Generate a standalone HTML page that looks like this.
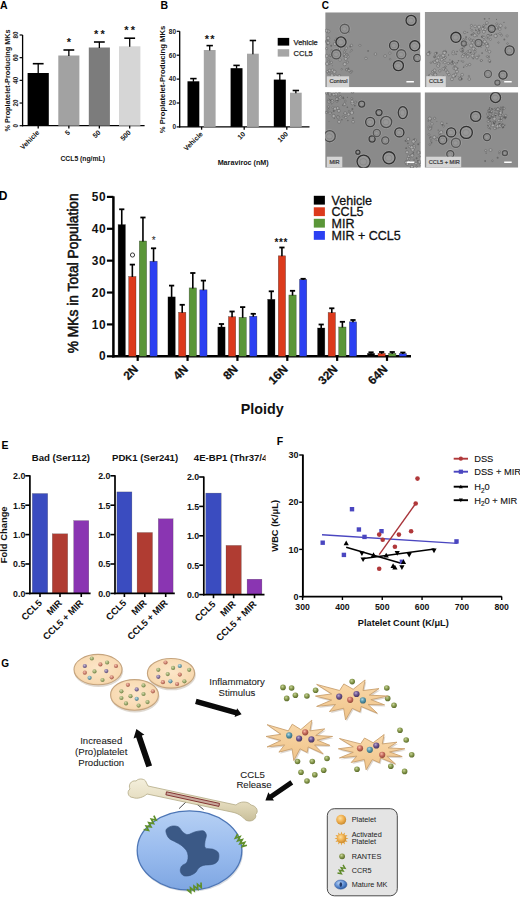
<!DOCTYPE html>
<html><head><meta charset="utf-8"><title>Figure</title>
<style>
html,body{margin:0;padding:0;background:#fff;width:520px;height:899px;overflow:hidden;}
svg{display:block;}
text{font-family:"Liberation Sans",sans-serif;}
</style></head>
<body>
<svg width="520" height="899" viewBox="0 0 520 899">
<rect width="520" height="899" fill="#fff"/>
<defs>
<radialGradient id="gPlate" cx="50%" cy="45%" r="60%"><stop offset="0" stop-color="#fce6c8"/><stop offset="0.8" stop-color="#f8dab2"/><stop offset="1" stop-color="#eec99a"/></radialGradient>
<linearGradient id="gStar" x1="0" y1="0" x2="0" y2="1"><stop offset="0" stop-color="#f9d9ab"/><stop offset="1" stop-color="#f0c48a"/></linearGradient>
<radialGradient id="gGreen" cx="40%" cy="35%" r="65%"><stop offset="0" stop-color="#c8d49a"/><stop offset="0.5" stop-color="#8a9c50"/><stop offset="1" stop-color="#5a6a2a"/></radialGradient>
<radialGradient id="gPurple" cx="40%" cy="35%" r="65%"><stop offset="0" stop-color="#b0a0d0"/><stop offset="0.5" stop-color="#6a4a8a"/><stop offset="1" stop-color="#3a2a5a"/></radialGradient>
<radialGradient id="gRed" cx="40%" cy="35%" r="65%"><stop offset="0" stop-color="#f0a090"/><stop offset="0.5" stop-color="#c05a4a"/><stop offset="1" stop-color="#8a3a2a"/></radialGradient>
<radialGradient id="gTeal" cx="40%" cy="35%" r="65%"><stop offset="0" stop-color="#a0d0e0"/><stop offset="0.5" stop-color="#4a8aa0"/><stop offset="1" stop-color="#2a5a6a"/></radialGradient>
<radialGradient id="gOrange" cx="40%" cy="35%" r="65%"><stop offset="0" stop-color="#fde0a0"/><stop offset="0.55" stop-color="#f0b050"/><stop offset="1" stop-color="#c88a30"/></radialGradient>
<radialGradient id="gBlue" cx="40%" cy="35%" r="65%"><stop offset="0" stop-color="#c0d8f8"/><stop offset="0.6" stop-color="#5a8ad0"/><stop offset="1" stop-color="#2a5aa0"/></radialGradient>
<radialGradient id="mGreen" cx="40%" cy="35%" r="65%"><stop offset="0" stop-color="#d6dcb0"/><stop offset="0.55" stop-color="#9aa86c"/><stop offset="1" stop-color="#72824a"/></radialGradient>
<radialGradient id="mPurple" cx="40%" cy="35%" r="65%"><stop offset="0" stop-color="#c8bcd8"/><stop offset="0.55" stop-color="#86759e"/><stop offset="1" stop-color="#5a4a72"/></radialGradient>
<radialGradient id="mRed" cx="40%" cy="35%" r="65%"><stop offset="0" stop-color="#f2c0b0"/><stop offset="0.55" stop-color="#cc8270"/><stop offset="1" stop-color="#a05a48"/></radialGradient>
<radialGradient id="mTeal" cx="40%" cy="35%" r="65%"><stop offset="0" stop-color="#c0dce4"/><stop offset="0.55" stop-color="#74a4b2"/><stop offset="1" stop-color="#4a7684"/></radialGradient>
<radialGradient id="sPurple" cx="40%" cy="35%" r="65%"><stop offset="0" stop-color="#b8a8d0"/><stop offset="0.5" stop-color="#6e5690"/><stop offset="1" stop-color="#44335e"/></radialGradient>
<radialGradient id="sRed" cx="40%" cy="35%" r="65%"><stop offset="0" stop-color="#f4b8a8"/><stop offset="0.5" stop-color="#c86e5e"/><stop offset="1" stop-color="#94463a"/></radialGradient>
<radialGradient id="sTeal" cx="40%" cy="35%" r="65%"><stop offset="0" stop-color="#b0dae6"/><stop offset="0.5" stop-color="#5a98ac"/><stop offset="1" stop-color="#356a7a"/></radialGradient>
<linearGradient id="gMK" x1="0" y1="0" x2="0" y2="1"><stop offset="0" stop-color="#b6d0f4"/><stop offset="0.5" stop-color="#9abcee"/><stop offset="1" stop-color="#7ea6e2"/></linearGradient>
<linearGradient id="gBone" x1="0" y1="0" x2="0" y2="1"><stop offset="0" stop-color="#f4efdc"/><stop offset="0.6" stop-color="#e2d9ba"/><stop offset="1" stop-color="#c9bf9a"/></linearGradient>
</defs><text x="0" y="8.6" font-size="10.5" font-weight="bold" text-anchor="start" fill="#000">A</text>
<line x1="22.6" y1="35" x2="22.6" y2="126.3" stroke="#000" stroke-width="1.3"/>
<line x1="22" y1="125.7" x2="144.6" y2="125.7" stroke="#000" stroke-width="1.3"/>
<line x1="19.6" y1="125.7" x2="22.6" y2="125.7" stroke="#000" stroke-width="1.2"/>
<text x="18.3" y="125.7" font-size="6.3" font-weight="bold" text-anchor="middle" fill="#222" transform="rotate(-90 18.3 125.7)">0</text>
<line x1="19.6" y1="103.03" x2="22.6" y2="103.03" stroke="#000" stroke-width="1.2"/>
<text x="18.3" y="103.03" font-size="6.3" font-weight="bold" text-anchor="middle" fill="#222" transform="rotate(-90 18.3 103.03)">20</text>
<line x1="19.6" y1="80.35" x2="22.6" y2="80.35" stroke="#000" stroke-width="1.2"/>
<text x="18.3" y="80.35" font-size="6.3" font-weight="bold" text-anchor="middle" fill="#222" transform="rotate(-90 18.3 80.35)">40</text>
<line x1="19.6" y1="57.67" x2="22.6" y2="57.67" stroke="#000" stroke-width="1.2"/>
<text x="18.3" y="57.67" font-size="6.3" font-weight="bold" text-anchor="middle" fill="#222" transform="rotate(-90 18.3 57.67)">60</text>
<line x1="19.6" y1="35" x2="22.6" y2="35" stroke="#000" stroke-width="1.2"/>
<text x="18.3" y="35" font-size="6.3" font-weight="bold" text-anchor="middle" fill="#222" transform="rotate(-90 18.3 35)">80</text>
<text x="9.8" y="80.5" font-size="7.3" font-weight="bold" text-anchor="middle" fill="#111" transform="rotate(-90 9.8 80.5)">% Proplatelet-Producing MKs</text>
<rect x="27.6" y="73" width="21.2" height="52.7" fill="#000"/>
<line x1="38.2" y1="63.7" x2="38.2" y2="73.5" stroke="#000" stroke-width="1.3"/>
<line x1="32.8" y1="63.7" x2="43.6" y2="63.7" stroke="#000" stroke-width="1.6"/>
<line x1="38.2" y1="125.7" x2="38.2" y2="128.5" stroke="#000" stroke-width="1.3"/>
<text x="39.8" y="133.1" font-size="6.9" font-weight="bold" text-anchor="end" fill="#111" transform="rotate(-45 39.8 133.1)">Vehicle</text>
<rect x="58.3" y="55.5" width="21.1" height="70.2" fill="#a2a2a2"/>
<line x1="68.85" y1="50" x2="68.85" y2="56" stroke="#000" stroke-width="1.3"/>
<line x1="63.45" y1="50" x2="74.25" y2="50" stroke="#000" stroke-width="1.6"/>
<line x1="68.85" y1="125.7" x2="68.85" y2="128.5" stroke="#000" stroke-width="1.3"/>
<text x="69.95" y="45.77" font-size="11" font-weight="bold" text-anchor="middle" fill="#111" letter-spacing="2.2">*</text>
<text x="70.45" y="133.1" font-size="6.9" font-weight="bold" text-anchor="end" fill="#111" transform="rotate(-45 70.45 133.1)">5</text>
<rect x="88.8" y="47.5" width="21.1" height="78.2" fill="#7c7c7c"/>
<line x1="99.35" y1="42" x2="99.35" y2="48" stroke="#000" stroke-width="1.3"/>
<line x1="93.95" y1="42" x2="104.75" y2="42" stroke="#000" stroke-width="1.6"/>
<line x1="99.35" y1="125.7" x2="99.35" y2="128.5" stroke="#000" stroke-width="1.3"/>
<text x="100.45" y="37.77" font-size="11" font-weight="bold" text-anchor="middle" fill="#111" letter-spacing="2.2">**</text>
<text x="100.95" y="133.1" font-size="6.9" font-weight="bold" text-anchor="end" fill="#111" transform="rotate(-45 100.95 133.1)">50</text>
<rect x="119" y="46.3" width="21.4" height="79.4" fill="#d6d6d6"/>
<line x1="129.7" y1="38.2" x2="129.7" y2="46.8" stroke="#000" stroke-width="1.3"/>
<line x1="124.3" y1="38.2" x2="135.1" y2="38.2" stroke="#000" stroke-width="1.6"/>
<line x1="129.7" y1="125.7" x2="129.7" y2="128.5" stroke="#000" stroke-width="1.3"/>
<text x="130.8" y="33.97" font-size="11" font-weight="bold" text-anchor="middle" fill="#111" letter-spacing="2.2">**</text>
<text x="131.3" y="133.1" font-size="6.9" font-weight="bold" text-anchor="end" fill="#111" transform="rotate(-45 131.3 133.1)">500</text>
<text x="82.7" y="160.8" font-size="6.8" font-weight="bold" text-anchor="middle" fill="#111">CCL5 (ng/mL)</text>
<text x="160.6" y="8.6" font-size="10.5" font-weight="bold" text-anchor="start" fill="#000">B</text>
<line x1="179.7" y1="31.3" x2="179.7" y2="127.5" stroke="#000" stroke-width="1.3"/>
<line x1="179.1" y1="126.9" x2="309.5" y2="126.9" stroke="#000" stroke-width="1.3"/>
<line x1="176.7" y1="126.9" x2="179.7" y2="126.9" stroke="#000" stroke-width="1.2"/>
<text x="176.1" y="129.2" font-size="6.5" font-weight="bold" text-anchor="end" fill="#222">0</text>
<line x1="176.7" y1="103" x2="179.7" y2="103" stroke="#000" stroke-width="1.2"/>
<text x="176.1" y="105.3" font-size="6.5" font-weight="bold" text-anchor="end" fill="#222">20</text>
<line x1="176.7" y1="79.1" x2="179.7" y2="79.1" stroke="#000" stroke-width="1.2"/>
<text x="176.1" y="81.4" font-size="6.5" font-weight="bold" text-anchor="end" fill="#222">40</text>
<line x1="176.7" y1="55.2" x2="179.7" y2="55.2" stroke="#000" stroke-width="1.2"/>
<text x="176.1" y="57.5" font-size="6.5" font-weight="bold" text-anchor="end" fill="#222">60</text>
<line x1="176.7" y1="31.3" x2="179.7" y2="31.3" stroke="#000" stroke-width="1.2"/>
<text x="176.1" y="33.6" font-size="6.5" font-weight="bold" text-anchor="end" fill="#222">80</text>
<text x="164.8" y="79.5" font-size="7.7" font-weight="bold" text-anchor="middle" fill="#111" transform="rotate(-90 164.8 79.5)">% Proplatelet-Producing MKs</text>
<rect x="187.5" y="81.3" width="11.8" height="45.6" fill="#000"/>
<line x1="193.4" y1="78.6" x2="193.4" y2="81.8" stroke="#000" stroke-width="1.3"/>
<line x1="190.2" y1="78.6" x2="196.6" y2="78.6" stroke="#000" stroke-width="1.6"/>
<rect x="203.8" y="50" width="11.8" height="76.9" fill="#a5a5a5"/>
<line x1="209.7" y1="45.6" x2="209.7" y2="50.5" stroke="#000" stroke-width="1.3"/>
<line x1="206.5" y1="45.6" x2="212.9" y2="45.6" stroke="#000" stroke-width="1.6"/>
<text x="210.3" y="43.47" font-size="11" font-weight="bold" text-anchor="middle" fill="#111" letter-spacing="1.2">**</text>
<rect x="230.6" y="68.2" width="11.9" height="58.7" fill="#000"/>
<line x1="236.55" y1="65.4" x2="236.55" y2="68.7" stroke="#000" stroke-width="1.3"/>
<line x1="233.35" y1="65.4" x2="239.75" y2="65.4" stroke="#000" stroke-width="1.6"/>
<rect x="247" y="53.7" width="11.8" height="73.2" fill="#a5a5a5"/>
<line x1="252.9" y1="40.5" x2="252.9" y2="54.2" stroke="#000" stroke-width="1.3"/>
<line x1="249.7" y1="40.5" x2="256.1" y2="40.5" stroke="#000" stroke-width="1.6"/>
<rect x="273.8" y="79.6" width="12" height="47.3" fill="#000"/>
<line x1="279.8" y1="73.5" x2="279.8" y2="80.1" stroke="#000" stroke-width="1.3"/>
<line x1="276.6" y1="73.5" x2="283" y2="73.5" stroke="#000" stroke-width="1.6"/>
<rect x="290" y="92.7" width="11.7" height="34.2" fill="#a5a5a5"/>
<line x1="295.85" y1="90.5" x2="295.85" y2="93.2" stroke="#000" stroke-width="1.3"/>
<line x1="292.65" y1="90.5" x2="299.05" y2="90.5" stroke="#000" stroke-width="1.6"/>
<line x1="201.6" y1="126.9" x2="201.6" y2="129.7" stroke="#000" stroke-width="1.3"/>
<text x="203.2" y="134.5" font-size="6.9" font-weight="bold" text-anchor="end" fill="#111" transform="rotate(-45 203.2 134.5)">Vehicle</text>
<line x1="244.2" y1="126.9" x2="244.2" y2="129.7" stroke="#000" stroke-width="1.3"/>
<text x="245.8" y="134.5" font-size="6.9" font-weight="bold" text-anchor="end" fill="#111" transform="rotate(-45 245.8 134.5)">10</text>
<line x1="286.8" y1="126.9" x2="286.8" y2="129.7" stroke="#000" stroke-width="1.3"/>
<text x="288.4" y="134.5" font-size="6.9" font-weight="bold" text-anchor="end" fill="#111" transform="rotate(-45 288.4 134.5)">100</text>
<text x="243.2" y="165.3" font-size="7.2" font-weight="bold" text-anchor="middle" fill="#111">Maraviroc (nM)</text>
<rect x="277.7" y="37.9" width="11.5" height="7.7" fill="#000"/>
<rect x="277.7" y="49.2" width="11.5" height="7.4" fill="#a5a5a5"/>
<text x="293.6" y="44.6" font-size="7.5" text-anchor="start" fill="#222" stroke="#222" stroke-width="0.25">Vehicle</text>
<text x="293.6" y="56" font-size="7.5" text-anchor="start" fill="#222" stroke="#222" stroke-width="0.25">CCL5</text>
<text x="321.8" y="9.4" font-size="10" font-weight="bold" text-anchor="start" fill="#000">C</text>
<clipPath id="cp1"><rect x="325.2" y="12.3" width="95.2" height="75"/></clipPath>
<g clip-path="url(#cp1)">
<rect x="325.2" y="12.3" width="95.2" height="75" fill="#8e8e8e"/>
<circle cx="329.49" cy="70.68" r="1.46" fill="#acacac" stroke="#4a4a4a" stroke-width="0.5" stroke-opacity="0.75"/>
<circle cx="338.88" cy="51.58" r="0.81" fill="#444" fill-opacity="0.5"/>
<circle cx="328.44" cy="31.36" r="1.54" fill="#acacac" stroke="#4a4a4a" stroke-width="0.5" stroke-opacity="0.75"/>
<circle cx="345.82" cy="30.1" r="0.69" fill="#444" fill-opacity="0.5"/>
<circle cx="331.95" cy="75.37" r="1.6" fill="#acacac" stroke="#4a4a4a" stroke-width="0.5" stroke-opacity="0.75"/>
<circle cx="326.66" cy="55.99" r="1.64" fill="#acacac" stroke="#4a4a4a" stroke-width="0.5" stroke-opacity="0.75"/>
<circle cx="331.63" cy="50.26" r="0.73" fill="#acacac" stroke="#4a4a4a" stroke-width="0.5" stroke-opacity="0.75"/>
<circle cx="337.39" cy="53.8" r="0.93" fill="#acacac" stroke="#4a4a4a" stroke-width="0.5" stroke-opacity="0.75"/>
<circle cx="331.69" cy="52.06" r="0.99" fill="#acacac" stroke="#4a4a4a" stroke-width="0.5" stroke-opacity="0.75"/>
<circle cx="347.78" cy="56.71" r="1.34" fill="#acacac" stroke="#4a4a4a" stroke-width="0.5" stroke-opacity="0.75"/>
<circle cx="351.81" cy="71.28" r="0.82" fill="#acacac" stroke="#4a4a4a" stroke-width="0.5" stroke-opacity="0.75"/>
<circle cx="344.76" cy="64.14" r="1.64" fill="#acacac" stroke="#4a4a4a" stroke-width="0.5" stroke-opacity="0.75"/>
<circle cx="347.58" cy="62.17" r="1" fill="#acacac" stroke="#4a4a4a" stroke-width="0.5" stroke-opacity="0.75"/>
<circle cx="348.94" cy="70.62" r="1.21" fill="#acacac" stroke="#4a4a4a" stroke-width="0.5" stroke-opacity="0.75"/>
<circle cx="326.9" cy="41.65" r="1.5" fill="#acacac" stroke="#4a4a4a" stroke-width="0.5" stroke-opacity="0.75"/>
<circle cx="330.5" cy="56.34" r="0.84" fill="#444" fill-opacity="0.5"/>
<circle cx="335.74" cy="51.07" r="0.73" fill="#444" fill-opacity="0.5"/>
<circle cx="339.54" cy="48.88" r="1.19" fill="#acacac" stroke="#4a4a4a" stroke-width="0.5" stroke-opacity="0.75"/>
<circle cx="327.13" cy="63.76" r="1.68" fill="#acacac" stroke="#4a4a4a" stroke-width="0.5" stroke-opacity="0.75"/>
<circle cx="336.23" cy="38.18" r="0.72" fill="#444" fill-opacity="0.5"/>
<circle cx="346.03" cy="55.9" r="1.56" fill="#acacac" stroke="#4a4a4a" stroke-width="0.5" stroke-opacity="0.75"/>
<circle cx="339.36" cy="75.72" r="1.28" fill="#acacac" stroke="#4a4a4a" stroke-width="0.5" stroke-opacity="0.75"/>
<circle cx="333" cy="56.3" r="1.66" fill="#acacac" stroke="#4a4a4a" stroke-width="0.5" stroke-opacity="0.75"/>
<circle cx="346.38" cy="69.38" r="0.95" fill="#444" fill-opacity="0.5"/>
<circle cx="347.04" cy="54.9" r="1.26" fill="#acacac" stroke="#4a4a4a" stroke-width="0.5" stroke-opacity="0.75"/>
<circle cx="327.46" cy="71.76" r="1.27" fill="#acacac" stroke="#4a4a4a" stroke-width="0.5" stroke-opacity="0.75"/>
<circle cx="339.12" cy="53.28" r="1.06" fill="#acacac" stroke="#4a4a4a" stroke-width="0.5" stroke-opacity="0.75"/>
<circle cx="340" cy="59.93" r="1.31" fill="#acacac" stroke="#4a4a4a" stroke-width="0.5" stroke-opacity="0.75"/>
<circle cx="326.73" cy="41.02" r="0.88" fill="#acacac" stroke="#4a4a4a" stroke-width="0.5" stroke-opacity="0.75"/>
<circle cx="348.39" cy="68.33" r="0.9" fill="#444" fill-opacity="0.5"/>
<circle cx="332.64" cy="70.4" r="1.37" fill="#acacac" stroke="#4a4a4a" stroke-width="0.5" stroke-opacity="0.75"/>
<circle cx="326.43" cy="30.7" r="1.46" fill="#acacac" stroke="#4a4a4a" stroke-width="0.5" stroke-opacity="0.75"/>
<circle cx="328.85" cy="59.99" r="1.04" fill="#acacac" stroke="#4a4a4a" stroke-width="0.5" stroke-opacity="0.75"/>
<circle cx="330.15" cy="55.31" r="0.87" fill="#acacac" stroke="#4a4a4a" stroke-width="0.5" stroke-opacity="0.75"/>
<circle cx="344.5" cy="51.83" r="1.02" fill="#acacac" stroke="#4a4a4a" stroke-width="0.5" stroke-opacity="0.75"/>
<circle cx="326.61" cy="48.55" r="1.12" fill="#acacac" stroke="#4a4a4a" stroke-width="0.5" stroke-opacity="0.75"/>
<circle cx="328.83" cy="73.19" r="1.21" fill="#acacac" stroke="#4a4a4a" stroke-width="0.5" stroke-opacity="0.75"/>
<circle cx="341.75" cy="69.22" r="0.72" fill="#acacac" stroke="#4a4a4a" stroke-width="0.5" stroke-opacity="0.75"/>
<circle cx="329.81" cy="64.5" r="0.52" fill="#444" fill-opacity="0.5"/>
<circle cx="343.63" cy="56.15" r="0.55" fill="#444" fill-opacity="0.5"/>
<circle cx="346.74" cy="54.8" r="0.92" fill="#acacac" stroke="#4a4a4a" stroke-width="0.5" stroke-opacity="0.75"/>
<circle cx="336.27" cy="57.64" r="1.02" fill="#acacac" stroke="#4a4a4a" stroke-width="0.5" stroke-opacity="0.75"/>
<circle cx="327.53" cy="44.33" r="1" fill="#444" fill-opacity="0.5"/>
<circle cx="333.97" cy="71.21" r="0.61" fill="#444" fill-opacity="0.5"/>
<circle cx="345.34" cy="49.98" r="0.95" fill="#acacac" stroke="#4a4a4a" stroke-width="0.5" stroke-opacity="0.75"/>
<circle cx="348.85" cy="31.82" r="0.91" fill="#444" fill-opacity="0.5"/>
<circle cx="340.83" cy="38.23" r="0.94" fill="#444" fill-opacity="0.5"/>
<circle cx="344.3" cy="54.43" r="1.08" fill="#acacac" stroke="#4a4a4a" stroke-width="0.5" stroke-opacity="0.75"/>
<circle cx="331.35" cy="62.36" r="1.13" fill="#acacac" stroke="#4a4a4a" stroke-width="0.5" stroke-opacity="0.75"/>
<circle cx="328.72" cy="61.97" r="1" fill="#acacac" stroke="#4a4a4a" stroke-width="0.5" stroke-opacity="0.75"/>
<circle cx="334.46" cy="71.84" r="1.6" fill="#acacac" stroke="#4a4a4a" stroke-width="0.5" stroke-opacity="0.75"/>
<circle cx="331.22" cy="45.73" r="1.01" fill="#444" fill-opacity="0.5"/>
<circle cx="334.82" cy="40.23" r="0.82" fill="#444" fill-opacity="0.5"/>
<circle cx="350.24" cy="46.5" r="0.95" fill="#444" fill-opacity="0.5"/>
<circle cx="338.6" cy="77.3" r="0.56" fill="#444" fill-opacity="0.5"/>
<circle cx="328.2" cy="38.15" r="1.61" fill="#acacac" stroke="#4a4a4a" stroke-width="0.5" stroke-opacity="0.75"/>
<circle cx="345.74" cy="58.81" r="1.54" fill="#acacac" stroke="#4a4a4a" stroke-width="0.5" stroke-opacity="0.75"/>
<circle cx="334.85" cy="43.98" r="1.57" fill="#acacac" stroke="#4a4a4a" stroke-width="0.5" stroke-opacity="0.75"/>
<circle cx="350.81" cy="72.59" r="0.84" fill="#acacac" stroke="#4a4a4a" stroke-width="0.5" stroke-opacity="0.75"/>
<circle cx="328.71" cy="31.88" r="0.46" fill="#444" fill-opacity="0.5"/>
<circle cx="346.49" cy="69.77" r="1.04" fill="#acacac" stroke="#4a4a4a" stroke-width="0.5" stroke-opacity="0.75"/>
<circle cx="346.33" cy="48.15" r="1.27" fill="#acacac" stroke="#4a4a4a" stroke-width="0.5" stroke-opacity="0.75"/>
<circle cx="328.13" cy="42.8" r="1.59" fill="#acacac" stroke="#4a4a4a" stroke-width="0.5" stroke-opacity="0.75"/>
<circle cx="350.05" cy="51.97" r="0.59" fill="#444" fill-opacity="0.5"/>
<circle cx="347.52" cy="30.59" r="1.37" fill="#acacac" stroke="#4a4a4a" stroke-width="0.5" stroke-opacity="0.75"/>
<circle cx="328.99" cy="72.48" r="0.74" fill="#acacac" stroke="#4a4a4a" stroke-width="0.5" stroke-opacity="0.75"/>
<circle cx="351.69" cy="50.21" r="0.82" fill="#acacac" stroke="#4a4a4a" stroke-width="0.5" stroke-opacity="0.75"/>
<circle cx="332.28" cy="65.71" r="0.48" fill="#444" fill-opacity="0.5"/>
<circle cx="335.84" cy="76.57" r="1.61" fill="#acacac" stroke="#4a4a4a" stroke-width="0.5" stroke-opacity="0.75"/>
<circle cx="332.59" cy="52.9" r="0.48" fill="#444" fill-opacity="0.5"/>
<circle cx="390.15" cy="59.22" r="0.76" fill="#acacac" stroke="#4a4a4a" stroke-width="0.5" stroke-opacity="0.75"/>
<circle cx="385.09" cy="56.04" r="1.37" fill="#acacac" stroke="#4a4a4a" stroke-width="0.5" stroke-opacity="0.75"/>
<circle cx="375.45" cy="54.1" r="1.28" fill="#acacac" stroke="#4a4a4a" stroke-width="0.5" stroke-opacity="0.75"/>
<circle cx="368.09" cy="50.9" r="0.85" fill="#444" fill-opacity="0.5"/>
<circle cx="389.87" cy="53.16" r="1.14" fill="#acacac" stroke="#4a4a4a" stroke-width="0.5" stroke-opacity="0.75"/>
<circle cx="351.51" cy="45.41" r="1.16" fill="#acacac" stroke="#4a4a4a" stroke-width="0.5" stroke-opacity="0.75"/>
<circle cx="365.96" cy="58.38" r="1.23" fill="#acacac" stroke="#4a4a4a" stroke-width="0.5" stroke-opacity="0.75"/>
<circle cx="359.92" cy="45.36" r="1.03" fill="#acacac" stroke="#4a4a4a" stroke-width="0.5" stroke-opacity="0.75"/>
<ellipse cx="411.1" cy="20.4" rx="5.95" ry="5.95" fill="none" stroke="#b0b0b0" stroke-opacity="0.6" stroke-width="0.8"/>
<ellipse cx="411.1" cy="20.4" rx="5.05" ry="5.05" fill="#979797" stroke="#262626" stroke-opacity="0.9" stroke-width="1.3"/>
<ellipse cx="410.8" cy="20.6" rx="2.78" ry="2.52" fill="none" stroke="#6a6a6a" stroke-opacity="0.5" stroke-width="0.6"/>
<ellipse cx="341" cy="42" rx="5.95" ry="5.95" fill="none" stroke="#b0b0b0" stroke-opacity="0.6" stroke-width="0.8"/>
<ellipse cx="341" cy="42" rx="5.05" ry="5.05" fill="#979797" stroke="#262626" stroke-opacity="0.9" stroke-width="1.3"/>
<ellipse cx="340.7" cy="42.2" rx="2.78" ry="2.52" fill="none" stroke="#6a6a6a" stroke-opacity="0.5" stroke-width="0.6"/>
<ellipse cx="344.7" cy="28.8" rx="5.45" ry="5.45" fill="none" stroke="#b0b0b0" stroke-opacity="0.6" stroke-width="0.8"/>
<ellipse cx="344.7" cy="28.8" rx="4.55" ry="4.55" fill="#979797" stroke="#262626" stroke-opacity="0.52" stroke-width="1.3"/>
<ellipse cx="344.4" cy="29" rx="2.5" ry="2.27" fill="none" stroke="#6a6a6a" stroke-opacity="0.5" stroke-width="0.6"/>
<ellipse cx="394.1" cy="45.4" rx="5.45" ry="5.45" fill="none" stroke="#b0b0b0" stroke-opacity="0.6" stroke-width="0.8"/>
<ellipse cx="394.1" cy="45.4" rx="4.55" ry="4.55" fill="#979797" stroke="#262626" stroke-opacity="0.84" stroke-width="1.3"/>
<ellipse cx="393.8" cy="45.6" rx="2.5" ry="2.27" fill="none" stroke="#6a6a6a" stroke-opacity="0.5" stroke-width="0.6"/>
<ellipse cx="401.3" cy="54.3" rx="5.45" ry="5.45" fill="none" stroke="#b0b0b0" stroke-opacity="0.6" stroke-width="0.8"/>
<ellipse cx="401.3" cy="54.3" rx="4.55" ry="4.55" fill="#979797" stroke="#262626" stroke-opacity="0.6" stroke-width="1.3"/>
<ellipse cx="401" cy="54.5" rx="2.5" ry="2.27" fill="none" stroke="#6a6a6a" stroke-opacity="0.5" stroke-width="0.6"/>
<ellipse cx="398.4" cy="65.6" rx="5.95" ry="5.95" fill="none" stroke="#b0b0b0" stroke-opacity="0.6" stroke-width="0.8"/>
<ellipse cx="398.4" cy="65.6" rx="5.05" ry="5.05" fill="#979797" stroke="#262626" stroke-opacity="0.9" stroke-width="1.3"/>
<ellipse cx="398.1" cy="65.8" rx="2.78" ry="2.52" fill="none" stroke="#6a6a6a" stroke-opacity="0.5" stroke-width="0.6"/>
<ellipse cx="414.8" cy="45.8" rx="5.95" ry="5.95" fill="none" stroke="#b0b0b0" stroke-opacity="0.6" stroke-width="0.8"/>
<ellipse cx="414.8" cy="45.8" rx="5.05" ry="5.05" fill="#979797" stroke="#262626" stroke-opacity="0.9" stroke-width="1.3"/>
<ellipse cx="414.5" cy="46" rx="2.78" ry="2.52" fill="none" stroke="#6a6a6a" stroke-opacity="0.5" stroke-width="0.6"/>
<ellipse cx="417.3" cy="58" rx="4.45" ry="4.45" fill="none" stroke="#b0b0b0" stroke-opacity="0.6" stroke-width="0.8"/>
<ellipse cx="417.3" cy="58" rx="3.55" ry="3.55" fill="#979797" stroke="#262626" stroke-opacity="0.73" stroke-width="1.3"/>
<ellipse cx="417" cy="58.2" rx="1.95" ry="1.77" fill="none" stroke="#6a6a6a" stroke-opacity="0.5" stroke-width="0.6"/>
<ellipse cx="336.3" cy="54.3" rx="5.45" ry="5.45" fill="none" stroke="#b0b0b0" stroke-opacity="0.6" stroke-width="0.8"/>
<ellipse cx="336.3" cy="54.3" rx="4.55" ry="4.55" fill="#979797" stroke="#262626" stroke-opacity="0.6" stroke-width="1.3"/>
<ellipse cx="336" cy="54.5" rx="2.5" ry="2.27" fill="none" stroke="#6a6a6a" stroke-opacity="0.5" stroke-width="0.6"/>
<rect x="326.8" y="76.3" width="22.3" height="11" fill="#d4d4d4"/>
<text x="329.4" y="83.3" font-size="5.6" text-anchor="start" fill="#333" stroke="#333" stroke-width="0.2">Control</text>
<line x1="406.4" y1="81.8" x2="413.9" y2="81.8" stroke="#fff" stroke-width="1.5"/>
</g>
<clipPath id="cp2"><rect x="424.7" y="12" width="93.5" height="75.2"/></clipPath>
<g clip-path="url(#cp2)">
<rect x="424.7" y="12" width="93.5" height="75.2" fill="#979797"/>
<circle cx="452" cy="62.87" r="1.28" fill="#acacac" stroke="#4a4a4a" stroke-width="0.5" stroke-opacity="0.75"/>
<circle cx="462.16" cy="74.71" r="1.35" fill="#acacac" stroke="#4a4a4a" stroke-width="0.5" stroke-opacity="0.75"/>
<circle cx="449.87" cy="59.83" r="0.57" fill="#444" fill-opacity="0.5"/>
<circle cx="469.86" cy="51.34" r="1.56" fill="#acacac" stroke="#4a4a4a" stroke-width="0.5" stroke-opacity="0.75"/>
<circle cx="444.03" cy="58.51" r="1.37" fill="#acacac" stroke="#4a4a4a" stroke-width="0.5" stroke-opacity="0.75"/>
<circle cx="456.81" cy="69.86" r="0.5" fill="#444" fill-opacity="0.5"/>
<circle cx="469.26" cy="79.08" r="1.31" fill="#acacac" stroke="#4a4a4a" stroke-width="0.5" stroke-opacity="0.75"/>
<circle cx="428.17" cy="54.02" r="1.64" fill="#acacac" stroke="#4a4a4a" stroke-width="0.5" stroke-opacity="0.75"/>
<circle cx="443.38" cy="76.95" r="1.01" fill="#acacac" stroke="#4a4a4a" stroke-width="0.5" stroke-opacity="0.75"/>
<circle cx="446.31" cy="51.95" r="0.77" fill="#444" fill-opacity="0.5"/>
<circle cx="434.57" cy="56.73" r="1.11" fill="#acacac" stroke="#4a4a4a" stroke-width="0.5" stroke-opacity="0.75"/>
<circle cx="448.86" cy="74.54" r="1.36" fill="#acacac" stroke="#4a4a4a" stroke-width="0.5" stroke-opacity="0.75"/>
<circle cx="463.92" cy="54.49" r="1.27" fill="#acacac" stroke="#4a4a4a" stroke-width="0.5" stroke-opacity="0.75"/>
<circle cx="453.25" cy="53.39" r="1.48" fill="#acacac" stroke="#4a4a4a" stroke-width="0.5" stroke-opacity="0.75"/>
<circle cx="434.99" cy="74.22" r="1.65" fill="#acacac" stroke="#4a4a4a" stroke-width="0.5" stroke-opacity="0.75"/>
<circle cx="445.39" cy="57.36" r="0.97" fill="#acacac" stroke="#4a4a4a" stroke-width="0.5" stroke-opacity="0.75"/>
<circle cx="435.5" cy="53.58" r="1.16" fill="#acacac" stroke="#4a4a4a" stroke-width="0.5" stroke-opacity="0.75"/>
<circle cx="455.25" cy="74.63" r="1.48" fill="#acacac" stroke="#4a4a4a" stroke-width="0.5" stroke-opacity="0.75"/>
<circle cx="442.6" cy="63.04" r="0.42" fill="#444" fill-opacity="0.5"/>
<circle cx="441.93" cy="59.58" r="0.78" fill="#acacac" stroke="#4a4a4a" stroke-width="0.5" stroke-opacity="0.75"/>
<circle cx="452.48" cy="61.72" r="0.94" fill="#444" fill-opacity="0.5"/>
<circle cx="438.14" cy="65.76" r="1.61" fill="#acacac" stroke="#4a4a4a" stroke-width="0.5" stroke-opacity="0.75"/>
<circle cx="453.29" cy="51.88" r="1.19" fill="#acacac" stroke="#4a4a4a" stroke-width="0.5" stroke-opacity="0.75"/>
<circle cx="444.85" cy="62.61" r="1.28" fill="#acacac" stroke="#4a4a4a" stroke-width="0.5" stroke-opacity="0.75"/>
<circle cx="448.58" cy="54.97" r="0.68" fill="#444" fill-opacity="0.5"/>
<circle cx="445.44" cy="51.06" r="0.7" fill="#acacac" stroke="#4a4a4a" stroke-width="0.5" stroke-opacity="0.75"/>
<circle cx="430.12" cy="52.78" r="0.81" fill="#acacac" stroke="#4a4a4a" stroke-width="0.5" stroke-opacity="0.75"/>
<circle cx="469.69" cy="64.55" r="1.16" fill="#acacac" stroke="#4a4a4a" stroke-width="0.5" stroke-opacity="0.75"/>
<circle cx="449.05" cy="63.41" r="0.86" fill="#444" fill-opacity="0.5"/>
<circle cx="457.31" cy="62.7" r="0.81" fill="#444" fill-opacity="0.5"/>
<circle cx="434.45" cy="57.12" r="0.79" fill="#444" fill-opacity="0.5"/>
<circle cx="454.99" cy="67.66" r="1.53" fill="#acacac" stroke="#4a4a4a" stroke-width="0.5" stroke-opacity="0.75"/>
<circle cx="461.92" cy="78.87" r="0.68" fill="#444" fill-opacity="0.5"/>
<circle cx="458.17" cy="76.66" r="0.45" fill="#444" fill-opacity="0.5"/>
<circle cx="460.21" cy="78.87" r="1.68" fill="#acacac" stroke="#4a4a4a" stroke-width="0.5" stroke-opacity="0.75"/>
<circle cx="456.14" cy="54.24" r="0.78" fill="#444" fill-opacity="0.5"/>
<circle cx="436.06" cy="60.5" r="0.78" fill="#acacac" stroke="#4a4a4a" stroke-width="0.5" stroke-opacity="0.75"/>
<circle cx="436.72" cy="52.88" r="1.02" fill="#444" fill-opacity="0.5"/>
<circle cx="447.48" cy="72.31" r="1.4" fill="#acacac" stroke="#4a4a4a" stroke-width="0.5" stroke-opacity="0.75"/>
<circle cx="445.79" cy="69.92" r="1.26" fill="#acacac" stroke="#4a4a4a" stroke-width="0.5" stroke-opacity="0.75"/>
<circle cx="443.3" cy="68.82" r="1.33" fill="#acacac" stroke="#4a4a4a" stroke-width="0.5" stroke-opacity="0.75"/>
<circle cx="453.61" cy="76.25" r="0.94" fill="#444" fill-opacity="0.5"/>
<circle cx="430.95" cy="62.71" r="0.79" fill="#acacac" stroke="#4a4a4a" stroke-width="0.5" stroke-opacity="0.75"/>
<circle cx="438.7" cy="63.71" r="1.46" fill="#acacac" stroke="#4a4a4a" stroke-width="0.5" stroke-opacity="0.75"/>
<circle cx="439.86" cy="70.85" r="1.21" fill="#acacac" stroke="#4a4a4a" stroke-width="0.5" stroke-opacity="0.75"/>
<circle cx="439.07" cy="63.25" r="0.62" fill="#444" fill-opacity="0.5"/>
<circle cx="448.27" cy="63.4" r="1.18" fill="#acacac" stroke="#4a4a4a" stroke-width="0.5" stroke-opacity="0.75"/>
<circle cx="456.96" cy="71.6" r="1.5" fill="#acacac" stroke="#4a4a4a" stroke-width="0.5" stroke-opacity="0.75"/>
<circle cx="461.33" cy="78.94" r="1.02" fill="#444" fill-opacity="0.5"/>
<circle cx="430.75" cy="75.42" r="1.54" fill="#acacac" stroke="#4a4a4a" stroke-width="0.5" stroke-opacity="0.75"/>
<circle cx="441.76" cy="59.66" r="1.44" fill="#acacac" stroke="#4a4a4a" stroke-width="0.5" stroke-opacity="0.75"/>
<circle cx="439.86" cy="55.59" r="0.87" fill="#acacac" stroke="#4a4a4a" stroke-width="0.5" stroke-opacity="0.75"/>
<circle cx="461.2" cy="78.07" r="0.55" fill="#444" fill-opacity="0.5"/>
<circle cx="467.95" cy="55.75" r="1.27" fill="#acacac" stroke="#4a4a4a" stroke-width="0.5" stroke-opacity="0.75"/>
<circle cx="468.94" cy="76.09" r="0.72" fill="#acacac" stroke="#4a4a4a" stroke-width="0.5" stroke-opacity="0.75"/>
<circle cx="463.62" cy="67.23" r="0.73" fill="#444" fill-opacity="0.5"/>
<circle cx="460.09" cy="78.64" r="1.03" fill="#acacac" stroke="#4a4a4a" stroke-width="0.5" stroke-opacity="0.75"/>
<circle cx="457.08" cy="51.5" r="0.76" fill="#444" fill-opacity="0.5"/>
<circle cx="444.68" cy="68.03" r="0.87" fill="#acacac" stroke="#4a4a4a" stroke-width="0.5" stroke-opacity="0.75"/>
<circle cx="453.45" cy="75.93" r="1.7" fill="#acacac" stroke="#4a4a4a" stroke-width="0.5" stroke-opacity="0.75"/>
<circle cx="466.68" cy="65.33" r="1.05" fill="#acacac" stroke="#4a4a4a" stroke-width="0.5" stroke-opacity="0.75"/>
<circle cx="452.27" cy="60.43" r="0.51" fill="#444" fill-opacity="0.5"/>
<circle cx="457.67" cy="68.3" r="0.85" fill="#444" fill-opacity="0.5"/>
<circle cx="435.35" cy="74.73" r="1.52" fill="#acacac" stroke="#4a4a4a" stroke-width="0.5" stroke-opacity="0.75"/>
<circle cx="451.47" cy="63.75" r="0.89" fill="#acacac" stroke="#4a4a4a" stroke-width="0.5" stroke-opacity="0.75"/>
<circle cx="434.41" cy="77.97" r="0.89" fill="#acacac" stroke="#4a4a4a" stroke-width="0.5" stroke-opacity="0.75"/>
<circle cx="451.94" cy="79.24" r="1.49" fill="#acacac" stroke="#4a4a4a" stroke-width="0.5" stroke-opacity="0.75"/>
<circle cx="443.8" cy="51.5" r="0.75" fill="#acacac" stroke="#4a4a4a" stroke-width="0.5" stroke-opacity="0.75"/>
<circle cx="467.89" cy="51.49" r="0.88" fill="#acacac" stroke="#4a4a4a" stroke-width="0.5" stroke-opacity="0.75"/>
<circle cx="443.14" cy="55.57" r="1.65" fill="#acacac" stroke="#4a4a4a" stroke-width="0.5" stroke-opacity="0.75"/>
<circle cx="453.12" cy="62.86" r="1.05" fill="#acacac" stroke="#4a4a4a" stroke-width="0.5" stroke-opacity="0.75"/>
<circle cx="434.84" cy="62.17" r="1.45" fill="#acacac" stroke="#4a4a4a" stroke-width="0.5" stroke-opacity="0.75"/>
<circle cx="460.65" cy="76.36" r="0.52" fill="#444" fill-opacity="0.5"/>
<circle cx="452.42" cy="62.62" r="0.73" fill="#444" fill-opacity="0.5"/>
<circle cx="444.46" cy="52.83" r="1.66" fill="#acacac" stroke="#4a4a4a" stroke-width="0.5" stroke-opacity="0.75"/>
<circle cx="432.49" cy="71.65" r="1.01" fill="#acacac" stroke="#4a4a4a" stroke-width="0.5" stroke-opacity="0.75"/>
<circle cx="455.28" cy="76.74" r="0.63" fill="#444" fill-opacity="0.5"/>
<circle cx="454.03" cy="68.23" r="1.23" fill="#acacac" stroke="#4a4a4a" stroke-width="0.5" stroke-opacity="0.75"/>
<circle cx="434.64" cy="70.31" r="1.39" fill="#acacac" stroke="#4a4a4a" stroke-width="0.5" stroke-opacity="0.75"/>
<circle cx="454.75" cy="64.23" r="1.28" fill="#acacac" stroke="#4a4a4a" stroke-width="0.5" stroke-opacity="0.75"/>
<circle cx="437.15" cy="60.66" r="1.67" fill="#acacac" stroke="#4a4a4a" stroke-width="0.5" stroke-opacity="0.75"/>
<circle cx="464.22" cy="65.94" r="0.46" fill="#444" fill-opacity="0.5"/>
<circle cx="428.73" cy="75.12" r="0.62" fill="#444" fill-opacity="0.5"/>
<circle cx="458.53" cy="60.75" r="0.8" fill="#444" fill-opacity="0.5"/>
<circle cx="435.19" cy="56.17" r="0.59" fill="#444" fill-opacity="0.5"/>
<circle cx="438.37" cy="57.39" r="1.31" fill="#acacac" stroke="#4a4a4a" stroke-width="0.5" stroke-opacity="0.75"/>
<circle cx="445.59" cy="66.53" r="0.73" fill="#acacac" stroke="#4a4a4a" stroke-width="0.5" stroke-opacity="0.75"/>
<circle cx="429.16" cy="51.65" r="0.88" fill="#444" fill-opacity="0.5"/>
<circle cx="433.23" cy="61.56" r="0.71" fill="#acacac" stroke="#4a4a4a" stroke-width="0.5" stroke-opacity="0.75"/>
<circle cx="455.79" cy="68.72" r="1.6" fill="#acacac" stroke="#4a4a4a" stroke-width="0.5" stroke-opacity="0.75"/>
<circle cx="473.57" cy="48.79" r="1.62" fill="#acacac" stroke="#4a4a4a" stroke-width="0.5" stroke-opacity="0.75"/>
<circle cx="475.24" cy="49.62" r="0.88" fill="#acacac" stroke="#4a4a4a" stroke-width="0.5" stroke-opacity="0.75"/>
<circle cx="478.9" cy="55.79" r="0.79" fill="#acacac" stroke="#4a4a4a" stroke-width="0.5" stroke-opacity="0.75"/>
<circle cx="462.72" cy="56.29" r="1.39" fill="#acacac" stroke="#4a4a4a" stroke-width="0.5" stroke-opacity="0.75"/>
<circle cx="489.47" cy="60.94" r="1.35" fill="#acacac" stroke="#4a4a4a" stroke-width="0.5" stroke-opacity="0.75"/>
<circle cx="464.72" cy="32.45" r="1.23" fill="#acacac" stroke="#4a4a4a" stroke-width="0.5" stroke-opacity="0.75"/>
<circle cx="465.71" cy="39.26" r="0.73" fill="#acacac" stroke="#4a4a4a" stroke-width="0.5" stroke-opacity="0.75"/>
<circle cx="473.22" cy="57.27" r="1.22" fill="#acacac" stroke="#4a4a4a" stroke-width="0.5" stroke-opacity="0.75"/>
<circle cx="474.99" cy="51.87" r="1.16" fill="#acacac" stroke="#4a4a4a" stroke-width="0.5" stroke-opacity="0.75"/>
<circle cx="489.93" cy="61.87" r="0.92" fill="#444" fill-opacity="0.5"/>
<circle cx="469.46" cy="38.89" r="0.99" fill="#acacac" stroke="#4a4a4a" stroke-width="0.5" stroke-opacity="0.75"/>
<circle cx="482.99" cy="44.01" r="1.55" fill="#acacac" stroke="#4a4a4a" stroke-width="0.5" stroke-opacity="0.75"/>
<circle cx="488.74" cy="57.42" r="0.7" fill="#acacac" stroke="#4a4a4a" stroke-width="0.5" stroke-opacity="0.75"/>
<circle cx="487.31" cy="46.1" r="1.68" fill="#acacac" stroke="#4a4a4a" stroke-width="0.5" stroke-opacity="0.75"/>
<circle cx="462.19" cy="50.88" r="1.48" fill="#acacac" stroke="#4a4a4a" stroke-width="0.5" stroke-opacity="0.75"/>
<circle cx="462.61" cy="41.98" r="1" fill="#444" fill-opacity="0.5"/>
<circle cx="463.54" cy="39.39" r="0.8" fill="#acacac" stroke="#4a4a4a" stroke-width="0.5" stroke-opacity="0.75"/>
<circle cx="483.91" cy="37.33" r="1.26" fill="#acacac" stroke="#4a4a4a" stroke-width="0.5" stroke-opacity="0.75"/>
<circle cx="465.72" cy="53.96" r="0.83" fill="#acacac" stroke="#4a4a4a" stroke-width="0.5" stroke-opacity="0.75"/>
<circle cx="463.5" cy="44.62" r="0.91" fill="#acacac" stroke="#4a4a4a" stroke-width="0.5" stroke-opacity="0.75"/>
<circle cx="489.13" cy="56.1" r="0.6" fill="#444" fill-opacity="0.5"/>
<circle cx="466.32" cy="43.83" r="1.55" fill="#acacac" stroke="#4a4a4a" stroke-width="0.5" stroke-opacity="0.75"/>
<circle cx="463.01" cy="61.68" r="0.91" fill="#acacac" stroke="#4a4a4a" stroke-width="0.5" stroke-opacity="0.75"/>
<circle cx="483.18" cy="41.87" r="1" fill="#acacac" stroke="#4a4a4a" stroke-width="0.5" stroke-opacity="0.75"/>
<circle cx="462.7" cy="49.48" r="0.94" fill="#acacac" stroke="#4a4a4a" stroke-width="0.5" stroke-opacity="0.75"/>
<circle cx="471.15" cy="45.6" r="1.66" fill="#acacac" stroke="#4a4a4a" stroke-width="0.5" stroke-opacity="0.75"/>
<circle cx="477.24" cy="58" r="0.88" fill="#acacac" stroke="#4a4a4a" stroke-width="0.5" stroke-opacity="0.75"/>
<circle cx="487.25" cy="56.53" r="0.95" fill="#acacac" stroke="#4a4a4a" stroke-width="0.5" stroke-opacity="0.75"/>
<circle cx="482.18" cy="60.21" r="0.54" fill="#444" fill-opacity="0.5"/>
<circle cx="486.47" cy="50.11" r="1.12" fill="#acacac" stroke="#4a4a4a" stroke-width="0.5" stroke-opacity="0.75"/>
<circle cx="461.16" cy="60.88" r="0.56" fill="#444" fill-opacity="0.5"/>
<circle cx="467.71" cy="56.71" r="1.3" fill="#acacac" stroke="#4a4a4a" stroke-width="0.5" stroke-opacity="0.75"/>
<circle cx="465.26" cy="53.61" r="0.77" fill="#acacac" stroke="#4a4a4a" stroke-width="0.5" stroke-opacity="0.75"/>
<circle cx="476.78" cy="57.57" r="1.31" fill="#acacac" stroke="#4a4a4a" stroke-width="0.5" stroke-opacity="0.75"/>
<circle cx="487.52" cy="38.12" r="0.72" fill="#acacac" stroke="#4a4a4a" stroke-width="0.5" stroke-opacity="0.75"/>
<circle cx="473.37" cy="33.81" r="0.88" fill="#acacac" stroke="#4a4a4a" stroke-width="0.5" stroke-opacity="0.75"/>
<circle cx="477.17" cy="35.95" r="0.64" fill="#444" fill-opacity="0.5"/>
<circle cx="489.41" cy="51.71" r="1.39" fill="#acacac" stroke="#4a4a4a" stroke-width="0.5" stroke-opacity="0.75"/>
<circle cx="464.21" cy="33.05" r="0.43" fill="#444" fill-opacity="0.5"/>
<circle cx="481.03" cy="60.88" r="0.72" fill="#acacac" stroke="#4a4a4a" stroke-width="0.5" stroke-opacity="0.75"/>
<circle cx="474.47" cy="53.91" r="0.61" fill="#444" fill-opacity="0.5"/>
<circle cx="462.26" cy="48.38" r="0.86" fill="#444" fill-opacity="0.5"/>
<circle cx="482.11" cy="53.11" r="0.9" fill="#444" fill-opacity="0.5"/>
<circle cx="470.56" cy="52.55" r="0.96" fill="#444" fill-opacity="0.5"/>
<circle cx="472.51" cy="55.72" r="1.56" fill="#acacac" stroke="#4a4a4a" stroke-width="0.5" stroke-opacity="0.75"/>
<circle cx="478.75" cy="43.47" r="1.28" fill="#acacac" stroke="#4a4a4a" stroke-width="0.5" stroke-opacity="0.75"/>
<circle cx="462.41" cy="51.18" r="1.02" fill="#444" fill-opacity="0.5"/>
<circle cx="481.85" cy="43.65" r="1.44" fill="#acacac" stroke="#4a4a4a" stroke-width="0.5" stroke-opacity="0.75"/>
<circle cx="473.22" cy="57.15" r="0.47" fill="#444" fill-opacity="0.5"/>
<circle cx="460.89" cy="50.04" r="1.18" fill="#acacac" stroke="#4a4a4a" stroke-width="0.5" stroke-opacity="0.75"/>
<circle cx="480.95" cy="46.92" r="0.79" fill="#444" fill-opacity="0.5"/>
<circle cx="467.67" cy="32.34" r="0.6" fill="#444" fill-opacity="0.5"/>
<circle cx="466.08" cy="37.09" r="0.96" fill="#444" fill-opacity="0.5"/>
<circle cx="473.26" cy="58.75" r="0.62" fill="#444" fill-opacity="0.5"/>
<circle cx="465.96" cy="44.93" r="0.9" fill="#444" fill-opacity="0.5"/>
<circle cx="486.41" cy="43.53" r="1.28" fill="#acacac" stroke="#4a4a4a" stroke-width="0.5" stroke-opacity="0.75"/>
<circle cx="464.09" cy="46.89" r="0.92" fill="#444" fill-opacity="0.5"/>
<circle cx="481.34" cy="60.5" r="0.98" fill="#acacac" stroke="#4a4a4a" stroke-width="0.5" stroke-opacity="0.75"/>
<circle cx="473.52" cy="40.25" r="0.91" fill="#acacac" stroke="#4a4a4a" stroke-width="0.5" stroke-opacity="0.75"/>
<circle cx="478.77" cy="46.82" r="0.61" fill="#444" fill-opacity="0.5"/>
<circle cx="488.03" cy="35.75" r="1.37" fill="#acacac" stroke="#4a4a4a" stroke-width="0.5" stroke-opacity="0.75"/>
<circle cx="470.41" cy="28.12" r="0.58" fill="#444" fill-opacity="0.5"/>
<circle cx="496.24" cy="34.24" r="0.75" fill="#444" fill-opacity="0.5"/>
<circle cx="475.52" cy="29.88" r="0.52" fill="#444" fill-opacity="0.5"/>
<circle cx="472.24" cy="40.11" r="0.46" fill="#444" fill-opacity="0.5"/>
<circle cx="482.81" cy="28.92" r="1.54" fill="#acacac" stroke="#4a4a4a" stroke-width="0.5" stroke-opacity="0.75"/>
<circle cx="472.31" cy="42.71" r="1.21" fill="#acacac" stroke="#4a4a4a" stroke-width="0.5" stroke-opacity="0.75"/>
<circle cx="507.51" cy="43.56" r="0.81" fill="#acacac" stroke="#4a4a4a" stroke-width="0.5" stroke-opacity="0.75"/>
<circle cx="475.13" cy="26.44" r="1.32" fill="#acacac" stroke="#4a4a4a" stroke-width="0.5" stroke-opacity="0.75"/>
<circle cx="496.48" cy="19.39" r="0.52" fill="#444" fill-opacity="0.5"/>
<circle cx="485.22" cy="29.31" r="1.3" fill="#acacac" stroke="#4a4a4a" stroke-width="0.5" stroke-opacity="0.75"/>
<circle cx="484.61" cy="18.82" r="0.86" fill="#444" fill-opacity="0.5"/>
<circle cx="507.1" cy="35.92" r="1.06" fill="#acacac" stroke="#4a4a4a" stroke-width="0.5" stroke-opacity="0.75"/>
<circle cx="496.22" cy="36.19" r="0.81" fill="#acacac" stroke="#4a4a4a" stroke-width="0.5" stroke-opacity="0.75"/>
<circle cx="483.81" cy="31.81" r="1.51" fill="#acacac" stroke="#4a4a4a" stroke-width="0.5" stroke-opacity="0.75"/>
<circle cx="471.07" cy="40.21" r="1.13" fill="#acacac" stroke="#4a4a4a" stroke-width="0.5" stroke-opacity="0.75"/>
<circle cx="478.44" cy="29.54" r="0.65" fill="#444" fill-opacity="0.5"/>
<circle cx="473.9" cy="32.85" r="0.53" fill="#444" fill-opacity="0.5"/>
<circle cx="471.4" cy="25.47" r="1.04" fill="#acacac" stroke="#4a4a4a" stroke-width="0.5" stroke-opacity="0.75"/>
<circle cx="471.98" cy="30.4" r="0.91" fill="#acacac" stroke="#4a4a4a" stroke-width="0.5" stroke-opacity="0.75"/>
<circle cx="488.1" cy="43.89" r="0.71" fill="#444" fill-opacity="0.5"/>
<circle cx="476.37" cy="42.95" r="1.06" fill="#acacac" stroke="#4a4a4a" stroke-width="0.5" stroke-opacity="0.75"/>
<circle cx="498.44" cy="42.63" r="0.71" fill="#acacac" stroke="#4a4a4a" stroke-width="0.5" stroke-opacity="0.75"/>
<circle cx="499.29" cy="27.23" r="0.94" fill="#acacac" stroke="#4a4a4a" stroke-width="0.5" stroke-opacity="0.75"/>
<circle cx="471.52" cy="34.72" r="1.01" fill="#444" fill-opacity="0.5"/>
<circle cx="489.14" cy="18.65" r="0.61" fill="#444" fill-opacity="0.5"/>
<circle cx="501.61" cy="35.26" r="0.93" fill="#acacac" stroke="#4a4a4a" stroke-width="0.5" stroke-opacity="0.75"/>
<circle cx="488.14" cy="34.93" r="0.58" fill="#444" fill-opacity="0.5"/>
<circle cx="503.98" cy="22.38" r="0.59" fill="#444" fill-opacity="0.5"/>
<circle cx="480.58" cy="43.49" r="0.73" fill="#444" fill-opacity="0.5"/>
<circle cx="496.78" cy="23.78" r="0.99" fill="#acacac" stroke="#4a4a4a" stroke-width="0.5" stroke-opacity="0.75"/>
<circle cx="495.97" cy="36.74" r="0.5" fill="#444" fill-opacity="0.5"/>
<circle cx="485.97" cy="24.51" r="0.68" fill="#444" fill-opacity="0.5"/>
<circle cx="491.28" cy="34.87" r="0.97" fill="#444" fill-opacity="0.5"/>
<circle cx="498.9" cy="29.28" r="0.77" fill="#444" fill-opacity="0.5"/>
<circle cx="499.99" cy="33.66" r="1.05" fill="#acacac" stroke="#4a4a4a" stroke-width="0.5" stroke-opacity="0.75"/>
<circle cx="497.96" cy="33.21" r="0.43" fill="#444" fill-opacity="0.5"/>
<circle cx="504.34" cy="39.54" r="0.96" fill="#444" fill-opacity="0.5"/>
<circle cx="490.33" cy="39.31" r="1.08" fill="#acacac" stroke="#4a4a4a" stroke-width="0.5" stroke-opacity="0.75"/>
<circle cx="483.42" cy="26.43" r="0.98" fill="#444" fill-opacity="0.5"/>
<circle cx="490.58" cy="34.8" r="0.82" fill="#acacac" stroke="#4a4a4a" stroke-width="0.5" stroke-opacity="0.75"/>
<circle cx="496.62" cy="28.64" r="0.95" fill="#acacac" stroke="#4a4a4a" stroke-width="0.5" stroke-opacity="0.75"/>
<circle cx="482.3" cy="36.5" r="0.84" fill="#acacac" stroke="#4a4a4a" stroke-width="0.5" stroke-opacity="0.75"/>
<circle cx="481.87" cy="36.79" r="0.88" fill="#444" fill-opacity="0.5"/>
<circle cx="505.52" cy="27.87" r="0.73" fill="#acacac" stroke="#4a4a4a" stroke-width="0.5" stroke-opacity="0.75"/>
<circle cx="486.86" cy="22.84" r="1.37" fill="#acacac" stroke="#4a4a4a" stroke-width="0.5" stroke-opacity="0.75"/>
<circle cx="479.06" cy="26.84" r="1.64" fill="#acacac" stroke="#4a4a4a" stroke-width="0.5" stroke-opacity="0.75"/>
<circle cx="483.69" cy="25.55" r="0.9" fill="#acacac" stroke="#4a4a4a" stroke-width="0.5" stroke-opacity="0.75"/>
<circle cx="478.37" cy="42.81" r="0.72" fill="#444" fill-opacity="0.5"/>
<circle cx="476.17" cy="30.55" r="0.78" fill="#444" fill-opacity="0.5"/>
<circle cx="479.5" cy="30.41" r="0.93" fill="#444" fill-opacity="0.5"/>
<circle cx="478.65" cy="32.53" r="1.46" fill="#acacac" stroke="#4a4a4a" stroke-width="0.5" stroke-opacity="0.75"/>
<circle cx="495.59" cy="35.91" r="1.67" fill="#acacac" stroke="#4a4a4a" stroke-width="0.5" stroke-opacity="0.75"/>
<circle cx="495.87" cy="27.46" r="1.43" fill="#acacac" stroke="#4a4a4a" stroke-width="0.5" stroke-opacity="0.75"/>
<circle cx="489" cy="27.74" r="1.01" fill="#acacac" stroke="#4a4a4a" stroke-width="0.5" stroke-opacity="0.75"/>
<circle cx="478.58" cy="32.7" r="0.95" fill="#acacac" stroke="#4a4a4a" stroke-width="0.5" stroke-opacity="0.75"/>
<circle cx="500.54" cy="25.71" r="1.64" fill="#acacac" stroke="#4a4a4a" stroke-width="0.5" stroke-opacity="0.75"/>
<circle cx="484.78" cy="41.57" r="1.6" fill="#acacac" stroke="#4a4a4a" stroke-width="0.5" stroke-opacity="0.75"/>
<circle cx="474.78" cy="35.31" r="1.54" fill="#acacac" stroke="#4a4a4a" stroke-width="0.5" stroke-opacity="0.75"/>
<circle cx="499.8" cy="29.14" r="1.32" fill="#acacac" stroke="#4a4a4a" stroke-width="0.5" stroke-opacity="0.75"/>
<ellipse cx="455.9" cy="37.3" rx="5.95" ry="5.95" fill="none" stroke="#b0b0b0" stroke-opacity="0.6" stroke-width="0.8"/>
<ellipse cx="455.9" cy="37.3" rx="5.05" ry="5.05" fill="#979797" stroke="#262626" stroke-opacity="0.9" stroke-width="1.3"/>
<ellipse cx="455.6" cy="37.5" rx="2.78" ry="2.52" fill="none" stroke="#6a6a6a" stroke-opacity="0.5" stroke-width="0.6"/>
<ellipse cx="463.8" cy="43.5" rx="3.45" ry="3.45" fill="none" stroke="#b0b0b0" stroke-opacity="0.6" stroke-width="0.8"/>
<ellipse cx="463.8" cy="43.5" rx="2.55" ry="2.55" fill="#979797" stroke="#262626" stroke-opacity="0.54" stroke-width="1.3"/>
<ellipse cx="463.5" cy="43.7" rx="1.4" ry="1.27" fill="none" stroke="#6a6a6a" stroke-opacity="0.5" stroke-width="0.6"/>
<ellipse cx="478.5" cy="43" rx="4.45" ry="4.45" fill="none" stroke="#b0b0b0" stroke-opacity="0.6" stroke-width="0.8"/>
<ellipse cx="478.5" cy="43" rx="3.55" ry="3.55" fill="#979797" stroke="#262626" stroke-opacity="0.54" stroke-width="1.3"/>
<ellipse cx="478.2" cy="43.2" rx="1.95" ry="1.77" fill="none" stroke="#6a6a6a" stroke-opacity="0.5" stroke-width="0.6"/>
<ellipse cx="491.7" cy="28.8" rx="4.45" ry="4.45" fill="none" stroke="#b0b0b0" stroke-opacity="0.6" stroke-width="0.8"/>
<ellipse cx="491.7" cy="28.8" rx="3.55" ry="3.55" fill="#979797" stroke="#262626" stroke-opacity="0.73" stroke-width="1.3"/>
<ellipse cx="491.4" cy="29" rx="1.95" ry="1.77" fill="none" stroke="#6a6a6a" stroke-opacity="0.5" stroke-width="0.6"/>
<ellipse cx="509.6" cy="50.5" rx="5.45" ry="5.45" fill="none" stroke="#b0b0b0" stroke-opacity="0.6" stroke-width="0.8"/>
<ellipse cx="509.6" cy="50.5" rx="4.55" ry="4.55" fill="#979797" stroke="#262626" stroke-opacity="0.82" stroke-width="1.3"/>
<ellipse cx="509.3" cy="50.7" rx="2.5" ry="2.27" fill="none" stroke="#6a6a6a" stroke-opacity="0.5" stroke-width="0.6"/>
<ellipse cx="503" cy="75" rx="4.95" ry="4.95" fill="none" stroke="#b0b0b0" stroke-opacity="0.6" stroke-width="0.8"/>
<ellipse cx="503" cy="75" rx="4.05" ry="4.05" fill="#979797" stroke="#262626" stroke-opacity="0.84" stroke-width="1.3"/>
<ellipse cx="502.7" cy="75.2" rx="2.23" ry="2.02" fill="none" stroke="#6a6a6a" stroke-opacity="0.5" stroke-width="0.6"/>
<ellipse cx="488" cy="74" rx="4.45" ry="4.45" fill="none" stroke="#b0b0b0" stroke-opacity="0.6" stroke-width="0.8"/>
<ellipse cx="488" cy="74" rx="3.55" ry="3.55" fill="#979797" stroke="#262626" stroke-opacity="0.54" stroke-width="1.3"/>
<ellipse cx="487.7" cy="74.2" rx="1.95" ry="1.77" fill="none" stroke="#6a6a6a" stroke-opacity="0.5" stroke-width="0.6"/>
<ellipse cx="497.4" cy="82.6" rx="3.45" ry="3.45" fill="none" stroke="#b0b0b0" stroke-opacity="0.6" stroke-width="0.8"/>
<ellipse cx="497.4" cy="82.6" rx="2.55" ry="2.55" fill="#979797" stroke="#262626" stroke-opacity="0.54" stroke-width="1.3"/>
<ellipse cx="497.1" cy="82.8" rx="1.4" ry="1.27" fill="none" stroke="#6a6a6a" stroke-opacity="0.5" stroke-width="0.6"/>
<rect x="426.3" y="76.2" width="19.5" height="11" fill="#d4d4d4"/>
<text x="428.9" y="83.2" font-size="5.6" text-anchor="start" fill="#333" stroke="#333" stroke-width="0.2">CCL5</text>
<line x1="504.2" y1="81.7" x2="511.7" y2="81.7" stroke="#fff" stroke-width="1.5"/>
</g>
<clipPath id="cp3"><rect x="325.2" y="92.3" width="95.6" height="75.4"/></clipPath>
<g clip-path="url(#cp3)">
<rect x="325.2" y="92.3" width="95.6" height="75.4" fill="#8a8a8a"/>
<circle cx="353.17" cy="112.59" r="0.88" fill="#444" fill-opacity="0.5"/>
<circle cx="333.79" cy="111.07" r="0.96" fill="#444" fill-opacity="0.5"/>
<circle cx="343.19" cy="97.08" r="0.67" fill="#444" fill-opacity="0.5"/>
<circle cx="329.1" cy="101.57" r="1.65" fill="#acacac" stroke="#4a4a4a" stroke-width="0.5" stroke-opacity="0.75"/>
<circle cx="332.26" cy="101.51" r="1.61" fill="#acacac" stroke="#4a4a4a" stroke-width="0.5" stroke-opacity="0.75"/>
<circle cx="338.82" cy="110.83" r="1.51" fill="#acacac" stroke="#4a4a4a" stroke-width="0.5" stroke-opacity="0.75"/>
<circle cx="328.44" cy="109.2" r="0.74" fill="#acacac" stroke="#4a4a4a" stroke-width="0.5" stroke-opacity="0.75"/>
<circle cx="331.71" cy="112.8" r="0.59" fill="#444" fill-opacity="0.5"/>
<circle cx="330.9" cy="95.53" r="0.43" fill="#444" fill-opacity="0.5"/>
<circle cx="351.77" cy="98.59" r="0.94" fill="#acacac" stroke="#4a4a4a" stroke-width="0.5" stroke-opacity="0.75"/>
<circle cx="345.35" cy="101.02" r="0.84" fill="#acacac" stroke="#4a4a4a" stroke-width="0.5" stroke-opacity="0.75"/>
<circle cx="343.99" cy="105.42" r="0.85" fill="#acacac" stroke="#4a4a4a" stroke-width="0.5" stroke-opacity="0.75"/>
<circle cx="342.67" cy="104.99" r="0.52" fill="#444" fill-opacity="0.5"/>
<circle cx="351.9" cy="112.69" r="1.7" fill="#acacac" stroke="#4a4a4a" stroke-width="0.5" stroke-opacity="0.75"/>
<circle cx="336.34" cy="95.49" r="1.31" fill="#acacac" stroke="#4a4a4a" stroke-width="0.5" stroke-opacity="0.75"/>
<circle cx="339.09" cy="121.78" r="1.54" fill="#acacac" stroke="#4a4a4a" stroke-width="0.5" stroke-opacity="0.75"/>
<circle cx="352.53" cy="92.06" r="1.35" fill="#acacac" stroke="#4a4a4a" stroke-width="0.5" stroke-opacity="0.75"/>
<circle cx="347.89" cy="120.58" r="0.74" fill="#444" fill-opacity="0.5"/>
<circle cx="327.63" cy="112.02" r="0.82" fill="#acacac" stroke="#4a4a4a" stroke-width="0.5" stroke-opacity="0.75"/>
<circle cx="336.01" cy="94.19" r="1.45" fill="#acacac" stroke="#4a4a4a" stroke-width="0.5" stroke-opacity="0.75"/>
<circle cx="333.72" cy="94.58" r="1.36" fill="#acacac" stroke="#4a4a4a" stroke-width="0.5" stroke-opacity="0.75"/>
<circle cx="327.33" cy="92.81" r="0.92" fill="#acacac" stroke="#4a4a4a" stroke-width="0.5" stroke-opacity="0.75"/>
<circle cx="326.36" cy="92.71" r="1.37" fill="#acacac" stroke="#4a4a4a" stroke-width="0.5" stroke-opacity="0.75"/>
<circle cx="330.05" cy="101.36" r="0.83" fill="#acacac" stroke="#4a4a4a" stroke-width="0.5" stroke-opacity="0.75"/>
<circle cx="337.64" cy="98.54" r="0.9" fill="#acacac" stroke="#4a4a4a" stroke-width="0.5" stroke-opacity="0.75"/>
<circle cx="335.04" cy="108.65" r="1.59" fill="#acacac" stroke="#4a4a4a" stroke-width="0.5" stroke-opacity="0.75"/>
<circle cx="339.46" cy="92.1" r="0.89" fill="#acacac" stroke="#4a4a4a" stroke-width="0.5" stroke-opacity="0.75"/>
<circle cx="338.15" cy="117.41" r="1.61" fill="#acacac" stroke="#4a4a4a" stroke-width="0.5" stroke-opacity="0.75"/>
<circle cx="336.93" cy="100.95" r="1.38" fill="#acacac" stroke="#4a4a4a" stroke-width="0.5" stroke-opacity="0.75"/>
<circle cx="334.29" cy="118.36" r="0.64" fill="#444" fill-opacity="0.5"/>
<circle cx="337.88" cy="117.11" r="1.16" fill="#acacac" stroke="#4a4a4a" stroke-width="0.5" stroke-opacity="0.75"/>
<circle cx="343.33" cy="98.34" r="0.97" fill="#444" fill-opacity="0.5"/>
<circle cx="341.88" cy="119.68" r="0.75" fill="#444" fill-opacity="0.5"/>
<circle cx="347.44" cy="97.37" r="0.6" fill="#444" fill-opacity="0.5"/>
<circle cx="329" cy="121.45" r="0.44" fill="#444" fill-opacity="0.5"/>
<circle cx="344.55" cy="104.18" r="1.3" fill="#acacac" stroke="#4a4a4a" stroke-width="0.5" stroke-opacity="0.75"/>
<circle cx="336.79" cy="100.49" r="0.45" fill="#444" fill-opacity="0.5"/>
<circle cx="352.42" cy="103.28" r="1.56" fill="#acacac" stroke="#4a4a4a" stroke-width="0.5" stroke-opacity="0.75"/>
<circle cx="333.63" cy="116.02" r="1.63" fill="#acacac" stroke="#4a4a4a" stroke-width="0.5" stroke-opacity="0.75"/>
<circle cx="352.14" cy="101.57" r="1.47" fill="#acacac" stroke="#4a4a4a" stroke-width="0.5" stroke-opacity="0.75"/>
<circle cx="355.71" cy="102.1" r="0.91" fill="#acacac" stroke="#4a4a4a" stroke-width="0.5" stroke-opacity="0.75"/>
<circle cx="330.05" cy="94.74" r="1.52" fill="#acacac" stroke="#4a4a4a" stroke-width="0.5" stroke-opacity="0.75"/>
<circle cx="329.54" cy="99.19" r="0.51" fill="#444" fill-opacity="0.5"/>
<circle cx="326.2" cy="112.44" r="1.05" fill="#acacac" stroke="#4a4a4a" stroke-width="0.5" stroke-opacity="0.75"/>
<circle cx="332.89" cy="107.79" r="0.95" fill="#acacac" stroke="#4a4a4a" stroke-width="0.5" stroke-opacity="0.75"/>
<circle cx="337.64" cy="108.08" r="1.4" fill="#acacac" stroke="#4a4a4a" stroke-width="0.5" stroke-opacity="0.75"/>
<circle cx="344.27" cy="113.45" r="0.6" fill="#444" fill-opacity="0.5"/>
<circle cx="328.5" cy="106.8" r="1.05" fill="#acacac" stroke="#4a4a4a" stroke-width="0.5" stroke-opacity="0.75"/>
<circle cx="345.78" cy="117.56" r="1.18" fill="#acacac" stroke="#4a4a4a" stroke-width="0.5" stroke-opacity="0.75"/>
<circle cx="353.14" cy="121.72" r="1.33" fill="#acacac" stroke="#4a4a4a" stroke-width="0.5" stroke-opacity="0.75"/>
<circle cx="345.17" cy="113.09" r="1.38" fill="#acacac" stroke="#4a4a4a" stroke-width="0.5" stroke-opacity="0.75"/>
<circle cx="348.57" cy="114.4" r="1.35" fill="#acacac" stroke="#4a4a4a" stroke-width="0.5" stroke-opacity="0.75"/>
<circle cx="337.11" cy="98.42" r="1.21" fill="#acacac" stroke="#4a4a4a" stroke-width="0.5" stroke-opacity="0.75"/>
<circle cx="340.13" cy="97.38" r="1.61" fill="#acacac" stroke="#4a4a4a" stroke-width="0.5" stroke-opacity="0.75"/>
<circle cx="352.38" cy="109" r="0.97" fill="#444" fill-opacity="0.5"/>
<circle cx="331.12" cy="100.24" r="1.02" fill="#444" fill-opacity="0.5"/>
<circle cx="328.55" cy="99.92" r="0.8" fill="#acacac" stroke="#4a4a4a" stroke-width="0.5" stroke-opacity="0.75"/>
<circle cx="328.27" cy="93.18" r="0.74" fill="#acacac" stroke="#4a4a4a" stroke-width="0.5" stroke-opacity="0.75"/>
<circle cx="347.38" cy="107.25" r="0.82" fill="#444" fill-opacity="0.5"/>
<circle cx="330.04" cy="113.15" r="1.2" fill="#acacac" stroke="#4a4a4a" stroke-width="0.5" stroke-opacity="0.75"/>
<circle cx="354.84" cy="105.67" r="0.83" fill="#444" fill-opacity="0.5"/>
<circle cx="340.51" cy="96.6" r="0.89" fill="#acacac" stroke="#4a4a4a" stroke-width="0.5" stroke-opacity="0.75"/>
<circle cx="331.71" cy="104.03" r="0.46" fill="#444" fill-opacity="0.5"/>
<circle cx="349.06" cy="111.09" r="0.81" fill="#acacac" stroke="#4a4a4a" stroke-width="0.5" stroke-opacity="0.75"/>
<circle cx="352.96" cy="118.23" r="0.86" fill="#444" fill-opacity="0.5"/>
<circle cx="332.21" cy="100.67" r="1.14" fill="#acacac" stroke="#4a4a4a" stroke-width="0.5" stroke-opacity="0.75"/>
<circle cx="336.92" cy="99.34" r="1.51" fill="#acacac" stroke="#4a4a4a" stroke-width="0.5" stroke-opacity="0.75"/>
<circle cx="343.16" cy="116.43" r="0.85" fill="#acacac" stroke="#4a4a4a" stroke-width="0.5" stroke-opacity="0.75"/>
<circle cx="337.33" cy="100.55" r="0.97" fill="#444" fill-opacity="0.5"/>
<circle cx="329.86" cy="93.99" r="1.29" fill="#acacac" stroke="#4a4a4a" stroke-width="0.5" stroke-opacity="0.75"/>
<circle cx="407.8" cy="158.69" r="1.33" fill="#acacac" stroke="#4a4a4a" stroke-width="0.5" stroke-opacity="0.75"/>
<circle cx="408.67" cy="161.78" r="1.51" fill="#acacac" stroke="#4a4a4a" stroke-width="0.5" stroke-opacity="0.75"/>
<circle cx="413.59" cy="145.08" r="0.7" fill="#acacac" stroke="#4a4a4a" stroke-width="0.5" stroke-opacity="0.75"/>
<circle cx="414.95" cy="140.08" r="1.49" fill="#acacac" stroke="#4a4a4a" stroke-width="0.5" stroke-opacity="0.75"/>
<circle cx="408.96" cy="139.27" r="1.02" fill="#444" fill-opacity="0.5"/>
<circle cx="419.88" cy="156.48" r="0.73" fill="#acacac" stroke="#4a4a4a" stroke-width="0.5" stroke-opacity="0.75"/>
<circle cx="413.46" cy="141.47" r="1.65" fill="#acacac" stroke="#4a4a4a" stroke-width="0.5" stroke-opacity="0.75"/>
<circle cx="407.63" cy="162.53" r="0.49" fill="#444" fill-opacity="0.5"/>
<circle cx="412.7" cy="154.56" r="1.04" fill="#acacac" stroke="#4a4a4a" stroke-width="0.5" stroke-opacity="0.75"/>
<circle cx="408.18" cy="139.11" r="1.57" fill="#acacac" stroke="#4a4a4a" stroke-width="0.5" stroke-opacity="0.75"/>
<circle cx="418.26" cy="144.26" r="1" fill="#444" fill-opacity="0.5"/>
<circle cx="417.83" cy="160.88" r="0.77" fill="#444" fill-opacity="0.5"/>
<circle cx="407.08" cy="152.29" r="1.53" fill="#acacac" stroke="#4a4a4a" stroke-width="0.5" stroke-opacity="0.75"/>
<circle cx="420.69" cy="164.63" r="1.11" fill="#acacac" stroke="#4a4a4a" stroke-width="0.5" stroke-opacity="0.75"/>
<circle cx="412.67" cy="149.57" r="1.69" fill="#acacac" stroke="#4a4a4a" stroke-width="0.5" stroke-opacity="0.75"/>
<circle cx="405.46" cy="140.8" r="0.85" fill="#444" fill-opacity="0.5"/>
<circle cx="413.43" cy="152.75" r="0.75" fill="#444" fill-opacity="0.5"/>
<circle cx="408.77" cy="156.27" r="1.26" fill="#acacac" stroke="#4a4a4a" stroke-width="0.5" stroke-opacity="0.75"/>
<circle cx="408.07" cy="143.1" r="0.63" fill="#444" fill-opacity="0.5"/>
<circle cx="410.89" cy="155.92" r="1.01" fill="#acacac" stroke="#4a4a4a" stroke-width="0.5" stroke-opacity="0.75"/>
<circle cx="406.12" cy="162.41" r="1.48" fill="#acacac" stroke="#4a4a4a" stroke-width="0.5" stroke-opacity="0.75"/>
<circle cx="416.62" cy="158.28" r="0.96" fill="#444" fill-opacity="0.5"/>
<circle cx="411.92" cy="167.67" r="1.66" fill="#acacac" stroke="#4a4a4a" stroke-width="0.5" stroke-opacity="0.75"/>
<circle cx="420.01" cy="152.73" r="1.08" fill="#acacac" stroke="#4a4a4a" stroke-width="0.5" stroke-opacity="0.75"/>
<circle cx="419.89" cy="142.87" r="0.46" fill="#444" fill-opacity="0.5"/>
<circle cx="418.16" cy="152.5" r="1.54" fill="#acacac" stroke="#4a4a4a" stroke-width="0.5" stroke-opacity="0.75"/>
<circle cx="409.39" cy="146.7" r="1.12" fill="#acacac" stroke="#4a4a4a" stroke-width="0.5" stroke-opacity="0.75"/>
<circle cx="406.18" cy="148.14" r="0.96" fill="#444" fill-opacity="0.5"/>
<circle cx="417.68" cy="152.37" r="0.57" fill="#444" fill-opacity="0.5"/>
<circle cx="413.94" cy="159.86" r="0.73" fill="#acacac" stroke="#4a4a4a" stroke-width="0.5" stroke-opacity="0.75"/>
<circle cx="419.25" cy="161.86" r="1.58" fill="#acacac" stroke="#4a4a4a" stroke-width="0.5" stroke-opacity="0.75"/>
<circle cx="412.24" cy="155.43" r="1.55" fill="#acacac" stroke="#4a4a4a" stroke-width="0.5" stroke-opacity="0.75"/>
<circle cx="414.08" cy="146.28" r="1.47" fill="#acacac" stroke="#4a4a4a" stroke-width="0.5" stroke-opacity="0.75"/>
<circle cx="416.65" cy="166.62" r="0.72" fill="#acacac" stroke="#4a4a4a" stroke-width="0.5" stroke-opacity="0.75"/>
<circle cx="415.95" cy="163.55" r="1.28" fill="#acacac" stroke="#4a4a4a" stroke-width="0.5" stroke-opacity="0.75"/>
<circle cx="411.9" cy="166.76" r="1.61" fill="#acacac" stroke="#4a4a4a" stroke-width="0.5" stroke-opacity="0.75"/>
<circle cx="406.61" cy="140.82" r="0.73" fill="#acacac" stroke="#4a4a4a" stroke-width="0.5" stroke-opacity="0.75"/>
<circle cx="407.39" cy="164.02" r="1.36" fill="#acacac" stroke="#4a4a4a" stroke-width="0.5" stroke-opacity="0.75"/>
<circle cx="414.16" cy="147.73" r="1.19" fill="#acacac" stroke="#4a4a4a" stroke-width="0.5" stroke-opacity="0.75"/>
<circle cx="407.82" cy="143.52" r="0.65" fill="#444" fill-opacity="0.5"/>
<circle cx="414.35" cy="139.39" r="0.85" fill="#444" fill-opacity="0.5"/>
<circle cx="418.16" cy="161.72" r="0.71" fill="#acacac" stroke="#4a4a4a" stroke-width="0.5" stroke-opacity="0.75"/>
<circle cx="406.08" cy="160.92" r="0.53" fill="#444" fill-opacity="0.5"/>
<circle cx="409.3" cy="158.9" r="1.01" fill="#acacac" stroke="#4a4a4a" stroke-width="0.5" stroke-opacity="0.75"/>
<circle cx="411.61" cy="147.28" r="1.6" fill="#acacac" stroke="#4a4a4a" stroke-width="0.5" stroke-opacity="0.75"/>
<ellipse cx="361.7" cy="104.1" rx="3.95" ry="3.95" fill="none" stroke="#b0b0b0" stroke-opacity="0.6" stroke-width="0.8"/>
<ellipse cx="361.7" cy="104.1" rx="3.05" ry="3.05" fill="#979797" stroke="#262626" stroke-opacity="0.73" stroke-width="1.3"/>
<ellipse cx="361.4" cy="104.3" rx="1.68" ry="1.52" fill="none" stroke="#6a6a6a" stroke-opacity="0.5" stroke-width="0.6"/>
<ellipse cx="402.8" cy="112.6" rx="5.45" ry="6.95" fill="none" stroke="#b0b0b0" stroke-opacity="0.6" stroke-width="0.8"/>
<ellipse cx="402.8" cy="112.6" rx="4.55" ry="6.05" fill="#979797" stroke="#262626" stroke-opacity="0.84" stroke-width="1.3"/>
<ellipse cx="402.5" cy="112.8" rx="2.5" ry="3.02" fill="none" stroke="#6a6a6a" stroke-opacity="0.5" stroke-width="0.6"/>
<ellipse cx="379" cy="112.6" rx="3.95" ry="3.95" fill="none" stroke="#b0b0b0" stroke-opacity="0.6" stroke-width="0.8"/>
<ellipse cx="379" cy="112.6" rx="3.05" ry="3.05" fill="#979797" stroke="#262626" stroke-opacity="0.79" stroke-width="1.3"/>
<ellipse cx="378.7" cy="112.8" rx="1.68" ry="1.52" fill="none" stroke="#6a6a6a" stroke-opacity="0.5" stroke-width="0.6"/>
<ellipse cx="370.2" cy="122" rx="5.45" ry="5.45" fill="none" stroke="#b0b0b0" stroke-opacity="0.6" stroke-width="0.8"/>
<ellipse cx="370.2" cy="122" rx="4.55" ry="4.55" fill="#979797" stroke="#262626" stroke-opacity="0.79" stroke-width="1.3"/>
<ellipse cx="369.9" cy="122.2" rx="2.5" ry="2.27" fill="none" stroke="#6a6a6a" stroke-opacity="0.5" stroke-width="0.6"/>
<ellipse cx="386.2" cy="122" rx="6.45" ry="6.45" fill="none" stroke="#b0b0b0" stroke-opacity="0.6" stroke-width="0.8"/>
<ellipse cx="386.2" cy="122" rx="5.55" ry="5.55" fill="#979797" stroke="#262626" stroke-opacity="0.65" stroke-width="1.3"/>
<ellipse cx="385.9" cy="122.2" rx="3.05" ry="2.77" fill="none" stroke="#6a6a6a" stroke-opacity="0.5" stroke-width="0.6"/>
<ellipse cx="399.4" cy="132.4" rx="5.45" ry="5.45" fill="none" stroke="#b0b0b0" stroke-opacity="0.6" stroke-width="0.8"/>
<ellipse cx="399.4" cy="132.4" rx="4.55" ry="4.55" fill="#979797" stroke="#262626" stroke-opacity="0.9" stroke-width="1.3"/>
<ellipse cx="399.1" cy="132.6" rx="2.5" ry="2.27" fill="none" stroke="#6a6a6a" stroke-opacity="0.5" stroke-width="0.6"/>
<ellipse cx="329.7" cy="136.2" rx="6.45" ry="6.45" fill="none" stroke="#b0b0b0" stroke-opacity="0.6" stroke-width="0.8"/>
<ellipse cx="329.7" cy="136.2" rx="5.55" ry="5.55" fill="#979797" stroke="#262626" stroke-opacity="0.65" stroke-width="1.3"/>
<ellipse cx="329.4" cy="136.4" rx="3.05" ry="2.77" fill="none" stroke="#6a6a6a" stroke-opacity="0.5" stroke-width="0.6"/>
<ellipse cx="372.1" cy="139" rx="3.95" ry="3.95" fill="none" stroke="#b0b0b0" stroke-opacity="0.6" stroke-width="0.8"/>
<ellipse cx="372.1" cy="139" rx="3.05" ry="3.05" fill="#979797" stroke="#262626" stroke-opacity="0.79" stroke-width="1.3"/>
<ellipse cx="371.8" cy="139.2" rx="1.68" ry="1.52" fill="none" stroke="#6a6a6a" stroke-opacity="0.5" stroke-width="0.6"/>
<ellipse cx="376.8" cy="133" rx="4.45" ry="4.45" fill="none" stroke="#b0b0b0" stroke-opacity="0.6" stroke-width="0.8"/>
<ellipse cx="376.8" cy="133" rx="3.55" ry="3.55" fill="#979797" stroke="#262626" stroke-opacity="0.54" stroke-width="1.3"/>
<ellipse cx="376.5" cy="133.2" rx="1.95" ry="1.77" fill="none" stroke="#6a6a6a" stroke-opacity="0.5" stroke-width="0.6"/>
<ellipse cx="385.3" cy="140.5" rx="4.45" ry="4.45" fill="none" stroke="#b0b0b0" stroke-opacity="0.6" stroke-width="0.8"/>
<ellipse cx="385.3" cy="140.5" rx="3.55" ry="3.55" fill="#979797" stroke="#262626" stroke-opacity="0.6" stroke-width="1.3"/>
<ellipse cx="385" cy="140.7" rx="1.95" ry="1.77" fill="none" stroke="#6a6a6a" stroke-opacity="0.5" stroke-width="0.6"/>
<ellipse cx="389" cy="157.8" rx="6.95" ry="6.95" fill="none" stroke="#b0b0b0" stroke-opacity="0.6" stroke-width="0.8"/>
<ellipse cx="389" cy="157.8" rx="6.05" ry="6.05" fill="#979797" stroke="#262626" stroke-opacity="0.9" stroke-width="1.3"/>
<ellipse cx="388.7" cy="158" rx="3.33" ry="3.02" fill="none" stroke="#6a6a6a" stroke-opacity="0.5" stroke-width="0.6"/>
<ellipse cx="363.6" cy="161.6" rx="7.45" ry="7.45" fill="none" stroke="#b0b0b0" stroke-opacity="0.6" stroke-width="0.8"/>
<ellipse cx="363.6" cy="161.6" rx="6.55" ry="6.55" fill="#979797" stroke="#262626" stroke-opacity="0.9" stroke-width="1.3"/>
<ellipse cx="363.3" cy="161.8" rx="3.6" ry="3.27" fill="none" stroke="#6a6a6a" stroke-opacity="0.5" stroke-width="0.6"/>
<ellipse cx="357.9" cy="152.2" rx="2.95" ry="2.95" fill="none" stroke="#b0b0b0" stroke-opacity="0.6" stroke-width="0.8"/>
<ellipse cx="357.9" cy="152.2" rx="2.05" ry="2.05" fill="#979797" stroke="#262626" stroke-opacity="0.79" stroke-width="1.3"/>
<ellipse cx="357.6" cy="152.4" rx="1.13" ry="1.02" fill="none" stroke="#6a6a6a" stroke-opacity="0.5" stroke-width="0.6"/>
<rect x="326.8" y="156.7" width="15.5" height="11" fill="#d4d4d4"/>
<text x="329.4" y="163.7" font-size="5.6" text-anchor="start" fill="#333" stroke="#333" stroke-width="0.2">MIR</text>
<line x1="406.8" y1="162.2" x2="414.3" y2="162.2" stroke="#fff" stroke-width="1.5"/>
</g>
<clipPath id="cp4"><rect x="424.6" y="92.3" width="93.6" height="75.4"/></clipPath>
<g clip-path="url(#cp4)">
<rect x="424.6" y="92.3" width="93.6" height="75.4" fill="#8d8d8d"/>
<circle cx="497.24" cy="113.36" r="0.44" fill="#444" fill-opacity="0.5"/>
<circle cx="490.99" cy="112.66" r="0.66" fill="#444" fill-opacity="0.5"/>
<circle cx="505.79" cy="117.15" r="1.02" fill="#444" fill-opacity="0.5"/>
<circle cx="491.61" cy="108.6" r="0.52" fill="#444" fill-opacity="0.5"/>
<circle cx="498.39" cy="127.18" r="1" fill="#444" fill-opacity="0.5"/>
<circle cx="497.17" cy="108.49" r="0.43" fill="#444" fill-opacity="0.5"/>
<circle cx="499.77" cy="123.79" r="0.76" fill="#444" fill-opacity="0.5"/>
<circle cx="499.14" cy="126.69" r="0.49" fill="#444" fill-opacity="0.5"/>
<circle cx="492.87" cy="125.25" r="1.58" fill="#acacac" stroke="#4a4a4a" stroke-width="0.5" stroke-opacity="0.75"/>
<circle cx="488.53" cy="112.35" r="0.61" fill="#444" fill-opacity="0.5"/>
<circle cx="494.78" cy="123.5" r="0.6" fill="#444" fill-opacity="0.5"/>
<circle cx="490.54" cy="121.2" r="0.73" fill="#444" fill-opacity="0.5"/>
<circle cx="505.02" cy="118.44" r="0.46" fill="#444" fill-opacity="0.5"/>
<circle cx="504.95" cy="117.43" r="0.71" fill="#444" fill-opacity="0.5"/>
<circle cx="491.82" cy="112.62" r="0.84" fill="#444" fill-opacity="0.5"/>
<circle cx="500.04" cy="125.22" r="1.21" fill="#acacac" stroke="#4a4a4a" stroke-width="0.5" stroke-opacity="0.75"/>
<circle cx="491.28" cy="111.69" r="1.07" fill="#acacac" stroke="#4a4a4a" stroke-width="0.5" stroke-opacity="0.75"/>
<circle cx="501.05" cy="120.64" r="1.21" fill="#acacac" stroke="#4a4a4a" stroke-width="0.5" stroke-opacity="0.75"/>
<circle cx="498.88" cy="115.41" r="0.9" fill="#444" fill-opacity="0.5"/>
<circle cx="500.2" cy="115.21" r="0.73" fill="#444" fill-opacity="0.5"/>
<circle cx="505.18" cy="118.63" r="0.61" fill="#444" fill-opacity="0.5"/>
<circle cx="489.27" cy="114.36" r="0.44" fill="#444" fill-opacity="0.5"/>
<circle cx="491.82" cy="115.62" r="0.89" fill="#444" fill-opacity="0.5"/>
<circle cx="487.7" cy="116.74" r="0.42" fill="#444" fill-opacity="0.5"/>
<circle cx="496.43" cy="125.71" r="0.58" fill="#444" fill-opacity="0.5"/>
<circle cx="489.63" cy="126.08" r="1.09" fill="#acacac" stroke="#4a4a4a" stroke-width="0.5" stroke-opacity="0.75"/>
<circle cx="504.39" cy="125.41" r="0.54" fill="#444" fill-opacity="0.5"/>
<circle cx="496.05" cy="110.14" r="0.68" fill="#444" fill-opacity="0.5"/>
<circle cx="494.23" cy="123.69" r="0.88" fill="#444" fill-opacity="0.5"/>
<circle cx="498.63" cy="126.85" r="0.63" fill="#444" fill-opacity="0.5"/>
<circle cx="495.5" cy="109.22" r="0.71" fill="#444" fill-opacity="0.5"/>
<circle cx="497.91" cy="110.9" r="0.57" fill="#444" fill-opacity="0.5"/>
<circle cx="489.01" cy="111.41" r="1.44" fill="#acacac" stroke="#4a4a4a" stroke-width="0.5" stroke-opacity="0.75"/>
<circle cx="489.17" cy="110.49" r="1.22" fill="#acacac" stroke="#4a4a4a" stroke-width="0.5" stroke-opacity="0.75"/>
<circle cx="500.05" cy="119.46" r="0.88" fill="#444" fill-opacity="0.5"/>
<circle cx="500.75" cy="118.38" r="0.6" fill="#444" fill-opacity="0.5"/>
<circle cx="489.84" cy="112.03" r="0.84" fill="#444" fill-opacity="0.5"/>
<circle cx="489.61" cy="116.75" r="1.3" fill="#acacac" stroke="#4a4a4a" stroke-width="0.5" stroke-opacity="0.75"/>
<circle cx="499.33" cy="110.15" r="0.86" fill="#acacac" stroke="#4a4a4a" stroke-width="0.5" stroke-opacity="0.75"/>
<circle cx="492.47" cy="122.82" r="1.11" fill="#acacac" stroke="#4a4a4a" stroke-width="0.5" stroke-opacity="0.75"/>
<circle cx="502.55" cy="125.36" r="1.47" fill="#acacac" stroke="#4a4a4a" stroke-width="0.5" stroke-opacity="0.75"/>
<circle cx="492.17" cy="109.16" r="0.87" fill="#444" fill-opacity="0.5"/>
<circle cx="488.77" cy="127.59" r="0.78" fill="#acacac" stroke="#4a4a4a" stroke-width="0.5" stroke-opacity="0.75"/>
<circle cx="504.1" cy="116.96" r="0.93" fill="#444" fill-opacity="0.5"/>
<circle cx="489.59" cy="117.58" r="1.46" fill="#acacac" stroke="#4a4a4a" stroke-width="0.5" stroke-opacity="0.75"/>
<circle cx="501.77" cy="114.71" r="1.21" fill="#acacac" stroke="#4a4a4a" stroke-width="0.5" stroke-opacity="0.75"/>
<circle cx="501.98" cy="117.64" r="1.15" fill="#acacac" stroke="#4a4a4a" stroke-width="0.5" stroke-opacity="0.75"/>
<circle cx="500.83" cy="110.81" r="1.3" fill="#acacac" stroke="#4a4a4a" stroke-width="0.5" stroke-opacity="0.75"/>
<circle cx="489.05" cy="120.8" r="0.59" fill="#444" fill-opacity="0.5"/>
<circle cx="500.14" cy="114.79" r="1.23" fill="#acacac" stroke="#4a4a4a" stroke-width="0.5" stroke-opacity="0.75"/>
<circle cx="487.83" cy="125.58" r="0.74" fill="#444" fill-opacity="0.5"/>
<circle cx="499.15" cy="120.87" r="0.49" fill="#444" fill-opacity="0.5"/>
<circle cx="495.19" cy="113.09" r="0.81" fill="#acacac" stroke="#4a4a4a" stroke-width="0.5" stroke-opacity="0.75"/>
<circle cx="488.33" cy="121.53" r="1.12" fill="#acacac" stroke="#4a4a4a" stroke-width="0.5" stroke-opacity="0.75"/>
<circle cx="497.77" cy="126.28" r="1.63" fill="#acacac" stroke="#4a4a4a" stroke-width="0.5" stroke-opacity="0.75"/>
<circle cx="498.8" cy="120.52" r="1.18" fill="#acacac" stroke="#4a4a4a" stroke-width="0.5" stroke-opacity="0.75"/>
<circle cx="495.88" cy="114.54" r="1.09" fill="#acacac" stroke="#4a4a4a" stroke-width="0.5" stroke-opacity="0.75"/>
<circle cx="500.18" cy="125.78" r="1.67" fill="#acacac" stroke="#4a4a4a" stroke-width="0.5" stroke-opacity="0.75"/>
<circle cx="491.44" cy="112.58" r="0.43" fill="#444" fill-opacity="0.5"/>
<circle cx="489.74" cy="118.02" r="0.94" fill="#444" fill-opacity="0.5"/>
<circle cx="498.97" cy="123.87" r="0.79" fill="#444" fill-opacity="0.5"/>
<circle cx="498.61" cy="111.97" r="0.46" fill="#444" fill-opacity="0.5"/>
<circle cx="489.15" cy="118.71" r="0.95" fill="#444" fill-opacity="0.5"/>
<circle cx="501.37" cy="108.04" r="0.44" fill="#444" fill-opacity="0.5"/>
<circle cx="488.88" cy="111.9" r="0.57" fill="#444" fill-opacity="0.5"/>
<circle cx="502.46" cy="124.56" r="0.95" fill="#444" fill-opacity="0.5"/>
<circle cx="490.46" cy="128.96" r="0.63" fill="#444" fill-opacity="0.5"/>
<circle cx="501.98" cy="112.03" r="0.97" fill="#444" fill-opacity="0.5"/>
<circle cx="500.16" cy="115.13" r="1.43" fill="#acacac" stroke="#4a4a4a" stroke-width="0.5" stroke-opacity="0.75"/>
<circle cx="493.33" cy="122.55" r="0.94" fill="#444" fill-opacity="0.5"/>
<circle cx="497.85" cy="108.56" r="1.18" fill="#acacac" stroke="#4a4a4a" stroke-width="0.5" stroke-opacity="0.75"/>
<circle cx="492.6" cy="115.77" r="1.2" fill="#acacac" stroke="#4a4a4a" stroke-width="0.5" stroke-opacity="0.75"/>
<circle cx="500.54" cy="109.59" r="0.44" fill="#444" fill-opacity="0.5"/>
<circle cx="496.01" cy="128.59" r="0.79" fill="#444" fill-opacity="0.5"/>
<circle cx="497.9" cy="109.22" r="1.33" fill="#acacac" stroke="#4a4a4a" stroke-width="0.5" stroke-opacity="0.75"/>
<circle cx="489.62" cy="110.8" r="0.7" fill="#acacac" stroke="#4a4a4a" stroke-width="0.5" stroke-opacity="0.75"/>
<circle cx="494.43" cy="118.73" r="1.56" fill="#acacac" stroke="#4a4a4a" stroke-width="0.5" stroke-opacity="0.75"/>
<circle cx="489.68" cy="107.81" r="0.71" fill="#444" fill-opacity="0.5"/>
<circle cx="487.35" cy="114.01" r="0.96" fill="#acacac" stroke="#4a4a4a" stroke-width="0.5" stroke-opacity="0.75"/>
<circle cx="495.05" cy="108.77" r="0.86" fill="#acacac" stroke="#4a4a4a" stroke-width="0.5" stroke-opacity="0.75"/>
<circle cx="492.71" cy="116.88" r="0.64" fill="#444" fill-opacity="0.5"/>
<circle cx="492.78" cy="116.12" r="0.5" fill="#444" fill-opacity="0.5"/>
<circle cx="502.98" cy="109.49" r="0.89" fill="#444" fill-opacity="0.5"/>
<circle cx="503.36" cy="127.15" r="0.9" fill="#444" fill-opacity="0.5"/>
<circle cx="495.61" cy="115.8" r="0.76" fill="#444" fill-opacity="0.5"/>
<circle cx="494.74" cy="128.37" r="1.19" fill="#acacac" stroke="#4a4a4a" stroke-width="0.5" stroke-opacity="0.75"/>
<circle cx="501.69" cy="117.98" r="1.11" fill="#acacac" stroke="#4a4a4a" stroke-width="0.5" stroke-opacity="0.75"/>
<circle cx="500.96" cy="111.97" r="1.46" fill="#acacac" stroke="#4a4a4a" stroke-width="0.5" stroke-opacity="0.75"/>
<circle cx="489.27" cy="109.35" r="0.65" fill="#444" fill-opacity="0.5"/>
<circle cx="503.06" cy="107.33" r="0.96" fill="#444" fill-opacity="0.5"/>
<circle cx="488.39" cy="116.56" r="0.53" fill="#444" fill-opacity="0.5"/>
<circle cx="494.66" cy="109.7" r="0.76" fill="#acacac" stroke="#4a4a4a" stroke-width="0.5" stroke-opacity="0.75"/>
<circle cx="490.2" cy="117.88" r="0.74" fill="#444" fill-opacity="0.5"/>
<circle cx="495.21" cy="115.51" r="0.7" fill="#444" fill-opacity="0.5"/>
<circle cx="488.63" cy="110.13" r="0.47" fill="#444" fill-opacity="0.5"/>
<circle cx="500.86" cy="108.68" r="0.55" fill="#444" fill-opacity="0.5"/>
<circle cx="500.9" cy="107.22" r="0.68" fill="#444" fill-opacity="0.5"/>
<circle cx="500.7" cy="114.23" r="0.92" fill="#444" fill-opacity="0.5"/>
<circle cx="505.2" cy="125.06" r="0.47" fill="#444" fill-opacity="0.5"/>
<circle cx="500.96" cy="125.56" r="0.89" fill="#444" fill-opacity="0.5"/>
<circle cx="491.27" cy="116.76" r="0.56" fill="#444" fill-opacity="0.5"/>
<circle cx="505.79" cy="115.38" r="1.06" fill="#acacac" stroke="#4a4a4a" stroke-width="0.5" stroke-opacity="0.75"/>
<circle cx="489.21" cy="108.27" r="0.48" fill="#444" fill-opacity="0.5"/>
<circle cx="500.34" cy="113.06" r="1.67" fill="#acacac" stroke="#4a4a4a" stroke-width="0.5" stroke-opacity="0.75"/>
<circle cx="504.21" cy="108.38" r="1.01" fill="#acacac" stroke="#4a4a4a" stroke-width="0.5" stroke-opacity="0.75"/>
<circle cx="495.38" cy="121.75" r="0.93" fill="#444" fill-opacity="0.5"/>
<circle cx="487.57" cy="117.51" r="0.98" fill="#444" fill-opacity="0.5"/>
<circle cx="489.39" cy="128.51" r="0.42" fill="#444" fill-opacity="0.5"/>
<circle cx="499.4" cy="113.32" r="0.83" fill="#444" fill-opacity="0.5"/>
<circle cx="502.75" cy="127.79" r="0.81" fill="#444" fill-opacity="0.5"/>
<circle cx="428.23" cy="121.03" r="0.66" fill="#444" fill-opacity="0.5"/>
<circle cx="430.64" cy="121.04" r="0.56" fill="#444" fill-opacity="0.5"/>
<circle cx="430.8" cy="138" r="1.36" fill="#acacac" stroke="#4a4a4a" stroke-width="0.5" stroke-opacity="0.75"/>
<circle cx="438.18" cy="130.09" r="0.67" fill="#444" fill-opacity="0.5"/>
<circle cx="429.77" cy="118.55" r="1.64" fill="#acacac" stroke="#4a4a4a" stroke-width="0.5" stroke-opacity="0.75"/>
<circle cx="431.77" cy="126.92" r="0.64" fill="#444" fill-opacity="0.5"/>
<circle cx="432" cy="123.86" r="1.28" fill="#acacac" stroke="#4a4a4a" stroke-width="0.5" stroke-opacity="0.75"/>
<circle cx="446.12" cy="140.64" r="1.06" fill="#acacac" stroke="#4a4a4a" stroke-width="0.5" stroke-opacity="0.75"/>
<circle cx="443.89" cy="144.7" r="0.44" fill="#444" fill-opacity="0.5"/>
<circle cx="444.5" cy="135.58" r="0.55" fill="#444" fill-opacity="0.5"/>
<circle cx="441.87" cy="123.23" r="1.34" fill="#acacac" stroke="#4a4a4a" stroke-width="0.5" stroke-opacity="0.75"/>
<circle cx="428.79" cy="127.07" r="1.03" fill="#acacac" stroke="#4a4a4a" stroke-width="0.5" stroke-opacity="0.75"/>
<circle cx="440.29" cy="140.58" r="1" fill="#444" fill-opacity="0.5"/>
<circle cx="446.88" cy="139.33" r="1.01" fill="#acacac" stroke="#4a4a4a" stroke-width="0.5" stroke-opacity="0.75"/>
<circle cx="439.85" cy="132.74" r="1.37" fill="#acacac" stroke="#4a4a4a" stroke-width="0.5" stroke-opacity="0.75"/>
<circle cx="431.66" cy="142.87" r="0.78" fill="#444" fill-opacity="0.5"/>
<circle cx="429.82" cy="128.78" r="1.61" fill="#acacac" stroke="#4a4a4a" stroke-width="0.5" stroke-opacity="0.75"/>
<circle cx="446.84" cy="123.32" r="0.69" fill="#444" fill-opacity="0.5"/>
<circle cx="436.45" cy="139.3" r="1.26" fill="#acacac" stroke="#4a4a4a" stroke-width="0.5" stroke-opacity="0.75"/>
<circle cx="429.88" cy="144.54" r="0.82" fill="#acacac" stroke="#4a4a4a" stroke-width="0.5" stroke-opacity="0.75"/>
<circle cx="434.37" cy="137.26" r="1.55" fill="#acacac" stroke="#4a4a4a" stroke-width="0.5" stroke-opacity="0.75"/>
<circle cx="437.46" cy="139.29" r="0.98" fill="#acacac" stroke="#4a4a4a" stroke-width="0.5" stroke-opacity="0.75"/>
<circle cx="439.64" cy="135.18" r="0.74" fill="#acacac" stroke="#4a4a4a" stroke-width="0.5" stroke-opacity="0.75"/>
<circle cx="430.62" cy="137.58" r="0.84" fill="#444" fill-opacity="0.5"/>
<circle cx="442.58" cy="124.88" r="0.88" fill="#444" fill-opacity="0.5"/>
<circle cx="434.63" cy="118.3" r="1.08" fill="#acacac" stroke="#4a4a4a" stroke-width="0.5" stroke-opacity="0.75"/>
<circle cx="431.35" cy="119.22" r="0.49" fill="#444" fill-opacity="0.5"/>
<circle cx="428.95" cy="134.58" r="0.91" fill="#acacac" stroke="#4a4a4a" stroke-width="0.5" stroke-opacity="0.75"/>
<circle cx="443.59" cy="126.07" r="0.88" fill="#acacac" stroke="#4a4a4a" stroke-width="0.5" stroke-opacity="0.75"/>
<circle cx="441.2" cy="132.16" r="1.56" fill="#acacac" stroke="#4a4a4a" stroke-width="0.5" stroke-opacity="0.75"/>
<circle cx="437.96" cy="137.36" r="0.7" fill="#444" fill-opacity="0.5"/>
<circle cx="436.87" cy="121.61" r="0.49" fill="#444" fill-opacity="0.5"/>
<circle cx="442.15" cy="143.45" r="1.39" fill="#acacac" stroke="#4a4a4a" stroke-width="0.5" stroke-opacity="0.75"/>
<circle cx="431.16" cy="141.03" r="0.82" fill="#acacac" stroke="#4a4a4a" stroke-width="0.5" stroke-opacity="0.75"/>
<circle cx="430.67" cy="128.28" r="1.01" fill="#acacac" stroke="#4a4a4a" stroke-width="0.5" stroke-opacity="0.75"/>
<circle cx="486.16" cy="153.2" r="0.6" fill="#444" fill-opacity="0.5"/>
<circle cx="492.44" cy="160.8" r="0.8" fill="#acacac" stroke="#4a4a4a" stroke-width="0.5" stroke-opacity="0.75"/>
<circle cx="497.65" cy="157.84" r="0.99" fill="#444" fill-opacity="0.5"/>
<circle cx="490.56" cy="150.01" r="1.46" fill="#acacac" stroke="#4a4a4a" stroke-width="0.5" stroke-opacity="0.75"/>
<circle cx="485.14" cy="160.96" r="0.93" fill="#444" fill-opacity="0.5"/>
<circle cx="499.3" cy="153.03" r="0.78" fill="#acacac" stroke="#4a4a4a" stroke-width="0.5" stroke-opacity="0.75"/>
<circle cx="499.67" cy="151.68" r="0.86" fill="#acacac" stroke="#4a4a4a" stroke-width="0.5" stroke-opacity="0.75"/>
<circle cx="485.74" cy="150.57" r="1.05" fill="#acacac" stroke="#4a4a4a" stroke-width="0.5" stroke-opacity="0.75"/>
<ellipse cx="495.5" cy="97.5" rx="5.95" ry="5.95" fill="none" stroke="#b0b0b0" stroke-opacity="0.6" stroke-width="0.8"/>
<ellipse cx="495.5" cy="97.5" rx="5.05" ry="5.05" fill="#979797" stroke="#262626" stroke-opacity="0.84" stroke-width="1.3"/>
<ellipse cx="495.2" cy="97.7" rx="2.78" ry="2.52" fill="none" stroke="#6a6a6a" stroke-opacity="0.5" stroke-width="0.6"/>
<ellipse cx="475.7" cy="116.4" rx="5.95" ry="5.95" fill="none" stroke="#b0b0b0" stroke-opacity="0.6" stroke-width="0.8"/>
<ellipse cx="475.7" cy="116.4" rx="5.05" ry="5.05" fill="#979797" stroke="#262626" stroke-opacity="0.84" stroke-width="1.3"/>
<ellipse cx="475.4" cy="116.6" rx="2.78" ry="2.52" fill="none" stroke="#6a6a6a" stroke-opacity="0.5" stroke-width="0.6"/>
<ellipse cx="466.3" cy="132.4" rx="6.95" ry="6.95" fill="none" stroke="#b0b0b0" stroke-opacity="0.6" stroke-width="0.8"/>
<ellipse cx="466.3" cy="132.4" rx="6.05" ry="6.05" fill="#979797" stroke="#262626" stroke-opacity="0.9" stroke-width="1.3"/>
<ellipse cx="466" cy="132.6" rx="3.33" ry="3.02" fill="none" stroke="#6a6a6a" stroke-opacity="0.5" stroke-width="0.6"/>
<ellipse cx="451.2" cy="132.4" rx="5.45" ry="5.45" fill="none" stroke="#b0b0b0" stroke-opacity="0.6" stroke-width="0.8"/>
<ellipse cx="451.2" cy="132.4" rx="4.55" ry="4.55" fill="#979797" stroke="#262626" stroke-opacity="0.9" stroke-width="1.3"/>
<ellipse cx="450.9" cy="132.6" rx="2.5" ry="2.27" fill="none" stroke="#6a6a6a" stroke-opacity="0.5" stroke-width="0.6"/>
<ellipse cx="442.7" cy="140" rx="4.95" ry="4.95" fill="none" stroke="#b0b0b0" stroke-opacity="0.6" stroke-width="0.8"/>
<ellipse cx="442.7" cy="140" rx="4.05" ry="4.05" fill="#979797" stroke="#262626" stroke-opacity="0.79" stroke-width="1.3"/>
<ellipse cx="442.4" cy="140.2" rx="2.23" ry="2.02" fill="none" stroke="#6a6a6a" stroke-opacity="0.5" stroke-width="0.6"/>
<ellipse cx="487" cy="137.1" rx="4.45" ry="4.45" fill="none" stroke="#b0b0b0" stroke-opacity="0.6" stroke-width="0.8"/>
<ellipse cx="487" cy="137.1" rx="3.55" ry="3.55" fill="#979797" stroke="#262626" stroke-opacity="0.65" stroke-width="1.3"/>
<ellipse cx="486.7" cy="137.3" rx="1.95" ry="1.77" fill="none" stroke="#6a6a6a" stroke-opacity="0.5" stroke-width="0.6"/>
<ellipse cx="455.9" cy="142.8" rx="5.45" ry="5.45" fill="none" stroke="#b0b0b0" stroke-opacity="0.6" stroke-width="0.8"/>
<ellipse cx="455.9" cy="142.8" rx="4.55" ry="4.55" fill="#979797" stroke="#262626" stroke-opacity="0.54" stroke-width="1.3"/>
<ellipse cx="455.6" cy="143" rx="2.5" ry="2.27" fill="none" stroke="#6a6a6a" stroke-opacity="0.5" stroke-width="0.6"/>
<ellipse cx="504.9" cy="153.1" rx="3.45" ry="3.45" fill="none" stroke="#b0b0b0" stroke-opacity="0.6" stroke-width="0.8"/>
<ellipse cx="504.9" cy="153.1" rx="2.55" ry="2.55" fill="#979797" stroke="#262626" stroke-opacity="0.62" stroke-width="1.3"/>
<ellipse cx="504.6" cy="153.3" rx="1.4" ry="1.27" fill="none" stroke="#6a6a6a" stroke-opacity="0.5" stroke-width="0.6"/>
<ellipse cx="450.3" cy="154.1" rx="4.45" ry="4.45" fill="none" stroke="#b0b0b0" stroke-opacity="0.6" stroke-width="0.8"/>
<ellipse cx="450.3" cy="154.1" rx="3.55" ry="3.55" fill="#979797" stroke="#262626" stroke-opacity="0.65" stroke-width="1.3"/>
<ellipse cx="450" cy="154.3" rx="1.95" ry="1.77" fill="none" stroke="#6a6a6a" stroke-opacity="0.5" stroke-width="0.6"/>
<rect x="426.2" y="156.7" width="35" height="11" fill="#d4d4d4"/>
<text x="428.8" y="163.7" font-size="5.6" text-anchor="start" fill="#333" stroke="#333" stroke-width="0.2">CCL5 + MIR</text>
<line x1="504.2" y1="162.2" x2="511.7" y2="162.2" stroke="#fff" stroke-width="1.5"/>
</g>
<text x="-1.2" y="199.9" font-size="12" font-weight="bold" text-anchor="start" fill="#000">D</text>
<line x1="113.4" y1="196.3" x2="113.4" y2="357.5" stroke="#000" stroke-width="2.5"/>
<line x1="112.2" y1="356.3" x2="411" y2="356.3" stroke="#000" stroke-width="2.6"/>
<line x1="106.9" y1="356.3" x2="113.4" y2="356.3" stroke="#000" stroke-width="2.2"/>
<text x="106" y="360.4" font-size="11.9" font-weight="bold" text-anchor="end" fill="#111" letter-spacing="0.5">0</text>
<line x1="106.9" y1="324.42" x2="113.4" y2="324.42" stroke="#000" stroke-width="2.2"/>
<text x="106" y="328.52" font-size="11.9" font-weight="bold" text-anchor="end" fill="#111" letter-spacing="0.5">10</text>
<line x1="106.9" y1="292.54" x2="113.4" y2="292.54" stroke="#000" stroke-width="2.2"/>
<text x="106" y="296.64" font-size="11.9" font-weight="bold" text-anchor="end" fill="#111" letter-spacing="0.5">20</text>
<line x1="106.9" y1="260.66" x2="113.4" y2="260.66" stroke="#000" stroke-width="2.2"/>
<text x="106" y="264.76" font-size="11.9" font-weight="bold" text-anchor="end" fill="#111" letter-spacing="0.5">30</text>
<line x1="106.9" y1="228.78" x2="113.4" y2="228.78" stroke="#000" stroke-width="2.2"/>
<text x="106" y="232.88" font-size="11.9" font-weight="bold" text-anchor="end" fill="#111" letter-spacing="0.5">40</text>
<line x1="106.9" y1="196.9" x2="113.4" y2="196.9" stroke="#000" stroke-width="2.2"/>
<text x="106" y="201" font-size="11.9" font-weight="bold" text-anchor="end" fill="#111" letter-spacing="0.5">50</text>
<text x="77.6" y="273.3" font-size="13.8" text-anchor="middle" fill="#111" transform="rotate(-90 77.6 273.3)" stroke="#111" stroke-width="0.55">% MKs in Total Population</text>
<rect x="118.1" y="224.6" width="7.3" height="131.7" fill="#000" stroke="#222" stroke-width="0.5" stroke-opacity="0.6"/>
<line x1="121.75" y1="209.3" x2="121.75" y2="225.1" stroke="#000" stroke-width="1.6"/>
<line x1="119.15" y1="209.3" x2="124.35" y2="209.3" stroke="#000" stroke-width="1.8"/>
<rect x="128.7" y="276.5" width="7.3" height="79.8" fill="#dc3a1c" stroke="#222" stroke-width="0.5" stroke-opacity="0.6"/>
<line x1="132.35" y1="264.6" x2="132.35" y2="277" stroke="#000" stroke-width="1.6"/>
<line x1="129.75" y1="264.6" x2="134.95" y2="264.6" stroke="#000" stroke-width="1.8"/>
<rect x="139.3" y="241" width="7.3" height="115.3" fill="#5a9638" stroke="#222" stroke-width="0.5" stroke-opacity="0.6"/>
<line x1="142.95" y1="217.5" x2="142.95" y2="241.5" stroke="#000" stroke-width="1.6"/>
<line x1="140.35" y1="217.5" x2="145.55" y2="217.5" stroke="#000" stroke-width="1.8"/>
<rect x="149.9" y="261.2" width="7.3" height="95.1" fill="#2b40f2" stroke="#222" stroke-width="0.5" stroke-opacity="0.6"/>
<line x1="153.55" y1="248.3" x2="153.55" y2="261.7" stroke="#000" stroke-width="1.6"/>
<line x1="150.95" y1="248.3" x2="156.15" y2="248.3" stroke="#000" stroke-width="1.8"/>
<line x1="137.7" y1="356.3" x2="137.7" y2="360.9" stroke="#000" stroke-width="2.2"/>
<text x="138.9" y="369.9" font-size="11.8" font-weight="bold" text-anchor="end" fill="#111" transform="rotate(-45 138.9 369.9)" stroke="#111" stroke-width="0.25">2N</text>
<rect x="167.96" y="296.9" width="7.3" height="59.4" fill="#000" stroke="#222" stroke-width="0.5" stroke-opacity="0.6"/>
<line x1="171.61" y1="285.6" x2="171.61" y2="297.4" stroke="#000" stroke-width="1.6"/>
<line x1="169.01" y1="285.6" x2="174.21" y2="285.6" stroke="#000" stroke-width="1.8"/>
<rect x="178.56" y="312.3" width="7.3" height="44" fill="#dc3a1c" stroke="#222" stroke-width="0.5" stroke-opacity="0.6"/>
<line x1="182.21" y1="304.8" x2="182.21" y2="312.8" stroke="#000" stroke-width="1.6"/>
<line x1="179.61" y1="304.8" x2="184.81" y2="304.8" stroke="#000" stroke-width="1.8"/>
<rect x="189.16" y="287.9" width="7.3" height="68.4" fill="#5a9638" stroke="#222" stroke-width="0.5" stroke-opacity="0.6"/>
<line x1="192.81" y1="273" x2="192.81" y2="288.4" stroke="#000" stroke-width="1.6"/>
<line x1="190.21" y1="273" x2="195.41" y2="273" stroke="#000" stroke-width="1.8"/>
<rect x="199.76" y="289.8" width="7.3" height="66.5" fill="#2b40f2" stroke="#222" stroke-width="0.5" stroke-opacity="0.6"/>
<line x1="203.41" y1="280.6" x2="203.41" y2="290.3" stroke="#000" stroke-width="1.6"/>
<line x1="200.81" y1="280.6" x2="206.01" y2="280.6" stroke="#000" stroke-width="1.8"/>
<line x1="187.56" y1="356.3" x2="187.56" y2="360.9" stroke="#000" stroke-width="2.2"/>
<text x="188.76" y="369.9" font-size="11.8" font-weight="bold" text-anchor="end" fill="#111" transform="rotate(-45 188.76 369.9)" stroke="#111" stroke-width="0.25">4N</text>
<rect x="217.82" y="327" width="7.3" height="29.3" fill="#000" stroke="#222" stroke-width="0.5" stroke-opacity="0.6"/>
<line x1="221.47" y1="324" x2="221.47" y2="327.5" stroke="#000" stroke-width="1.6"/>
<line x1="218.87" y1="324" x2="224.07" y2="324" stroke="#000" stroke-width="1.8"/>
<rect x="228.42" y="316.7" width="7.3" height="39.6" fill="#dc3a1c" stroke="#222" stroke-width="0.5" stroke-opacity="0.6"/>
<line x1="232.07" y1="311.5" x2="232.07" y2="317.2" stroke="#000" stroke-width="1.6"/>
<line x1="229.47" y1="311.5" x2="234.67" y2="311.5" stroke="#000" stroke-width="1.8"/>
<rect x="239.02" y="317.3" width="7.3" height="39" fill="#5a9638" stroke="#222" stroke-width="0.5" stroke-opacity="0.6"/>
<line x1="242.67" y1="307.1" x2="242.67" y2="317.8" stroke="#000" stroke-width="1.6"/>
<line x1="240.07" y1="307.1" x2="245.27" y2="307.1" stroke="#000" stroke-width="1.8"/>
<rect x="249.62" y="316.2" width="7.3" height="40.1" fill="#2b40f2" stroke="#222" stroke-width="0.5" stroke-opacity="0.6"/>
<line x1="253.27" y1="313.8" x2="253.27" y2="316.7" stroke="#000" stroke-width="1.6"/>
<line x1="250.67" y1="313.8" x2="255.87" y2="313.8" stroke="#000" stroke-width="1.8"/>
<line x1="237.42" y1="356.3" x2="237.42" y2="360.9" stroke="#000" stroke-width="2.2"/>
<text x="238.62" y="369.9" font-size="11.8" font-weight="bold" text-anchor="end" fill="#111" transform="rotate(-45 238.62 369.9)" stroke="#111" stroke-width="0.25">8N</text>
<rect x="267.68" y="299.3" width="7.3" height="57" fill="#000" stroke="#222" stroke-width="0.5" stroke-opacity="0.6"/>
<line x1="271.33" y1="291.3" x2="271.33" y2="299.8" stroke="#000" stroke-width="1.6"/>
<line x1="268.73" y1="291.3" x2="273.93" y2="291.3" stroke="#000" stroke-width="1.8"/>
<rect x="278.28" y="255.8" width="7.3" height="100.5" fill="#dc3a1c" stroke="#222" stroke-width="0.5" stroke-opacity="0.6"/>
<line x1="281.93" y1="247.5" x2="281.93" y2="256.3" stroke="#000" stroke-width="1.6"/>
<line x1="279.33" y1="247.5" x2="284.53" y2="247.5" stroke="#000" stroke-width="1.8"/>
<rect x="288.88" y="295" width="7.3" height="61.3" fill="#5a9638" stroke="#222" stroke-width="0.5" stroke-opacity="0.6"/>
<line x1="292.53" y1="290.8" x2="292.53" y2="295.5" stroke="#000" stroke-width="1.6"/>
<line x1="289.93" y1="290.8" x2="295.13" y2="290.8" stroke="#000" stroke-width="1.8"/>
<rect x="299.48" y="279.5" width="7.3" height="76.8" fill="#2b40f2" stroke="#222" stroke-width="0.5" stroke-opacity="0.6"/>
<line x1="303.13" y1="278.8" x2="303.13" y2="280" stroke="#000" stroke-width="1.6"/>
<line x1="300.53" y1="278.8" x2="305.73" y2="278.8" stroke="#000" stroke-width="1.8"/>
<line x1="287.28" y1="356.3" x2="287.28" y2="360.9" stroke="#000" stroke-width="2.2"/>
<text x="288.48" y="369.9" font-size="11.8" font-weight="bold" text-anchor="end" fill="#111" transform="rotate(-45 288.48 369.9)" stroke="#111" stroke-width="0.25">16N</text>
<rect x="317.54" y="328" width="7.3" height="28.3" fill="#000" stroke="#222" stroke-width="0.5" stroke-opacity="0.6"/>
<line x1="321.19" y1="324.5" x2="321.19" y2="328.5" stroke="#000" stroke-width="1.6"/>
<line x1="318.59" y1="324.5" x2="323.79" y2="324.5" stroke="#000" stroke-width="1.8"/>
<rect x="328.14" y="312.5" width="7.3" height="43.8" fill="#dc3a1c" stroke="#222" stroke-width="0.5" stroke-opacity="0.6"/>
<line x1="331.79" y1="308.3" x2="331.79" y2="313" stroke="#000" stroke-width="1.6"/>
<line x1="329.19" y1="308.3" x2="334.39" y2="308.3" stroke="#000" stroke-width="1.8"/>
<rect x="338.74" y="327" width="7.3" height="29.3" fill="#5a9638" stroke="#222" stroke-width="0.5" stroke-opacity="0.6"/>
<line x1="342.39" y1="321.8" x2="342.39" y2="327.5" stroke="#000" stroke-width="1.6"/>
<line x1="339.79" y1="321.8" x2="344.99" y2="321.8" stroke="#000" stroke-width="1.8"/>
<rect x="349.34" y="321.8" width="7.3" height="34.5" fill="#2b40f2" stroke="#222" stroke-width="0.5" stroke-opacity="0.6"/>
<line x1="352.99" y1="320" x2="352.99" y2="322.3" stroke="#000" stroke-width="1.6"/>
<line x1="350.39" y1="320" x2="355.59" y2="320" stroke="#000" stroke-width="1.8"/>
<line x1="337.14" y1="356.3" x2="337.14" y2="360.9" stroke="#000" stroke-width="2.2"/>
<text x="338.34" y="369.9" font-size="11.8" font-weight="bold" text-anchor="end" fill="#111" transform="rotate(-45 338.34 369.9)" stroke="#111" stroke-width="0.25">32N</text>
<rect x="367.4" y="353.3" width="7.3" height="3" fill="#000" stroke="#222" stroke-width="0.5" stroke-opacity="0.6"/>
<line x1="371.05" y1="352.3" x2="371.05" y2="353.8" stroke="#000" stroke-width="1.6"/>
<line x1="368.45" y1="352.3" x2="373.65" y2="352.3" stroke="#000" stroke-width="1.8"/>
<rect x="378" y="353.3" width="7.3" height="3" fill="#dc3a1c" stroke="#222" stroke-width="0.5" stroke-opacity="0.6"/>
<line x1="381.65" y1="352" x2="381.65" y2="353.8" stroke="#000" stroke-width="1.6"/>
<line x1="379.05" y1="352" x2="384.25" y2="352" stroke="#000" stroke-width="1.8"/>
<rect x="388.6" y="353.3" width="7.3" height="3" fill="#5a9638" stroke="#222" stroke-width="0.5" stroke-opacity="0.6"/>
<line x1="392.25" y1="352" x2="392.25" y2="353.8" stroke="#000" stroke-width="1.6"/>
<line x1="389.65" y1="352" x2="394.85" y2="352" stroke="#000" stroke-width="1.8"/>
<rect x="399.2" y="353.5" width="7.3" height="2.8" fill="#2b40f2" stroke="#222" stroke-width="0.5" stroke-opacity="0.6"/>
<line x1="402.85" y1="352.5" x2="402.85" y2="354" stroke="#000" stroke-width="1.6"/>
<line x1="400.25" y1="352.5" x2="405.45" y2="352.5" stroke="#000" stroke-width="1.8"/>
<line x1="387" y1="356.3" x2="387" y2="360.9" stroke="#000" stroke-width="2.2"/>
<text x="388.2" y="369.9" font-size="11.8" font-weight="bold" text-anchor="end" fill="#111" transform="rotate(-45 388.2 369.9)" stroke="#111" stroke-width="0.25">64N</text>
<circle cx="132.5" cy="255" r="2.1" fill="none" stroke="#222" stroke-width="0.9"/>
<text x="153.6" y="244.3" font-size="10" text-anchor="middle" fill="#222">*</text>
<text x="281.3" y="245.7" font-size="10" font-weight="bold" text-anchor="middle" fill="#111" letter-spacing="0.6">***</text>
<text x="262.2" y="414" font-size="14.3" font-weight="bold" text-anchor="middle" fill="#111">Ploidy</text>
<rect x="313.8" y="195.8" width="11.1" height="8.8" fill="#000"/>
<text x="331.6" y="204.5" font-size="12.5" text-anchor="start" fill="#111" stroke="#111" stroke-width="0.3">Vehicle</text>
<rect x="313.8" y="207.3" width="11.1" height="8.8" fill="#dc3a1c"/>
<text x="331.6" y="216" font-size="12.5" text-anchor="start" fill="#111" stroke="#111" stroke-width="0.3">CCL5</text>
<rect x="313.8" y="218.8" width="11.1" height="8.8" fill="#5a9638"/>
<text x="331.6" y="227.5" font-size="12.5" text-anchor="start" fill="#111" stroke="#111" stroke-width="0.3">MIR</text>
<rect x="313.8" y="231" width="11.1" height="8.8" fill="#2b40f2"/>
<text x="331.6" y="239.7" font-size="12.5" text-anchor="start" fill="#111" stroke="#111" stroke-width="0.3">MIR + CCL5</text>
<text x="1.5" y="448.5" font-size="10.5" font-weight="bold" text-anchor="start" fill="#000">E</text>
<rect x="32.3" y="493.5" width="15.4" height="99.9" fill="#3a4cc0" stroke="#333" stroke-width="0.4" stroke-opacity="0.5"/>
<rect x="52.3" y="533.8" width="15.4" height="59.6" fill="#b03c32" stroke="#333" stroke-width="0.4" stroke-opacity="0.5"/>
<rect x="73.7" y="520.6" width="15.1" height="72.8" fill="#8a35b2" stroke="#333" stroke-width="0.4" stroke-opacity="0.5"/>
<line x1="29.9" y1="475.3" x2="29.9" y2="594.2" stroke="#000" stroke-width="1.7"/>
<line x1="29.1" y1="593.4" x2="90.6" y2="593.4" stroke="#000" stroke-width="1.7"/>
<line x1="25.3" y1="593.4" x2="29.9" y2="593.4" stroke="#000" stroke-width="1.6"/>
<text x="25.3" y="596.7" font-size="8.8" font-weight="bold" text-anchor="end" fill="#111">0.0</text>
<line x1="25.3" y1="564" x2="29.9" y2="564" stroke="#000" stroke-width="1.6"/>
<text x="25.3" y="567.3" font-size="8.8" font-weight="bold" text-anchor="end" fill="#111">0.5</text>
<line x1="25.3" y1="534.6" x2="29.9" y2="534.6" stroke="#000" stroke-width="1.6"/>
<text x="25.3" y="537.9" font-size="8.8" font-weight="bold" text-anchor="end" fill="#111">1.0</text>
<line x1="25.3" y1="505.2" x2="29.9" y2="505.2" stroke="#000" stroke-width="1.6"/>
<text x="25.3" y="508.5" font-size="8.8" font-weight="bold" text-anchor="end" fill="#111">1.5</text>
<line x1="25.3" y1="475.8" x2="29.9" y2="475.8" stroke="#000" stroke-width="1.6"/>
<text x="25.3" y="479.1" font-size="8.8" font-weight="bold" text-anchor="end" fill="#111">2.0</text>
<line x1="40" y1="593.4" x2="40" y2="597" stroke="#000" stroke-width="1.6"/>
<text x="42.6" y="603.6" font-size="9.4" font-weight="bold" text-anchor="end" fill="#111" transform="rotate(-45 42.6 603.6)">CCL5</text>
<line x1="60" y1="593.4" x2="60" y2="597" stroke="#000" stroke-width="1.6"/>
<text x="62.6" y="603.6" font-size="9.4" font-weight="bold" text-anchor="end" fill="#111" transform="rotate(-45 62.6 603.6)">MIR</text>
<line x1="81.25" y1="593.4" x2="81.25" y2="597" stroke="#000" stroke-width="1.6"/>
<text x="83.85" y="603.6" font-size="9.4" font-weight="bold" text-anchor="end" fill="#111" transform="rotate(-45 83.85 603.6)">CCL5 + MIR</text>
<text x="60.9" y="460.8" font-size="9.6" font-weight="bold" text-anchor="middle" fill="#111">Bad (Ser112)</text>
<rect x="116.9" y="491.9" width="15" height="101.5" fill="#3a4cc0" stroke="#333" stroke-width="0.4" stroke-opacity="0.5"/>
<rect x="137.1" y="532.5" width="15.4" height="60.9" fill="#b03c32" stroke="#333" stroke-width="0.4" stroke-opacity="0.5"/>
<rect x="158.3" y="518.8" width="14.8" height="74.6" fill="#8a35b2" stroke="#333" stroke-width="0.4" stroke-opacity="0.5"/>
<line x1="115" y1="475.3" x2="115" y2="594.2" stroke="#000" stroke-width="1.7"/>
<line x1="114.2" y1="593.4" x2="174.8" y2="593.4" stroke="#000" stroke-width="1.7"/>
<line x1="110.4" y1="593.4" x2="115" y2="593.4" stroke="#000" stroke-width="1.6"/>
<text x="110.4" y="596.7" font-size="8.8" font-weight="bold" text-anchor="end" fill="#111">0.0</text>
<line x1="110.4" y1="564" x2="115" y2="564" stroke="#000" stroke-width="1.6"/>
<text x="110.4" y="567.3" font-size="8.8" font-weight="bold" text-anchor="end" fill="#111">0.5</text>
<line x1="110.4" y1="534.6" x2="115" y2="534.6" stroke="#000" stroke-width="1.6"/>
<text x="110.4" y="537.9" font-size="8.8" font-weight="bold" text-anchor="end" fill="#111">1.0</text>
<line x1="110.4" y1="505.2" x2="115" y2="505.2" stroke="#000" stroke-width="1.6"/>
<text x="110.4" y="508.5" font-size="8.8" font-weight="bold" text-anchor="end" fill="#111">1.5</text>
<line x1="110.4" y1="475.8" x2="115" y2="475.8" stroke="#000" stroke-width="1.6"/>
<text x="110.4" y="479.1" font-size="8.8" font-weight="bold" text-anchor="end" fill="#111">2.0</text>
<line x1="124.4" y1="593.4" x2="124.4" y2="597" stroke="#000" stroke-width="1.6"/>
<text x="127" y="603.6" font-size="9.4" font-weight="bold" text-anchor="end" fill="#111" transform="rotate(-45 127 603.6)">CCL5</text>
<line x1="144.8" y1="593.4" x2="144.8" y2="597" stroke="#000" stroke-width="1.6"/>
<text x="147.4" y="603.6" font-size="9.4" font-weight="bold" text-anchor="end" fill="#111" transform="rotate(-45 147.4 603.6)">MIR</text>
<line x1="165.7" y1="593.4" x2="165.7" y2="597" stroke="#000" stroke-width="1.6"/>
<text x="168.3" y="603.6" font-size="9.4" font-weight="bold" text-anchor="end" fill="#111" transform="rotate(-45 168.3 603.6)">CCL5 + MIR</text>
<text x="145.1" y="460.8" font-size="9.6" font-weight="bold" text-anchor="middle" fill="#111">PDK1 (Ser241)</text>
<rect x="205.8" y="493.1" width="15.4" height="101.5" fill="#3a4cc0" stroke="#333" stroke-width="0.4" stroke-opacity="0.5"/>
<rect x="226" y="545.4" width="15.3" height="49.2" fill="#b03c32" stroke="#333" stroke-width="0.4" stroke-opacity="0.5"/>
<rect x="247.1" y="579.2" width="14.8" height="15.4" fill="#8a35b2" stroke="#333" stroke-width="0.4" stroke-opacity="0.5"/>
<line x1="203.8" y1="476.5" x2="203.8" y2="595.4" stroke="#000" stroke-width="1.7"/>
<line x1="203" y1="594.6" x2="264.5" y2="594.6" stroke="#000" stroke-width="1.7"/>
<line x1="199.2" y1="594.6" x2="203.8" y2="594.6" stroke="#000" stroke-width="1.6"/>
<text x="199.2" y="597.9" font-size="8.8" font-weight="bold" text-anchor="end" fill="#111">0.0</text>
<line x1="199.2" y1="565.2" x2="203.8" y2="565.2" stroke="#000" stroke-width="1.6"/>
<text x="199.2" y="568.5" font-size="8.8" font-weight="bold" text-anchor="end" fill="#111">0.5</text>
<line x1="199.2" y1="535.8" x2="203.8" y2="535.8" stroke="#000" stroke-width="1.6"/>
<text x="199.2" y="539.1" font-size="8.8" font-weight="bold" text-anchor="end" fill="#111">1.0</text>
<line x1="199.2" y1="506.4" x2="203.8" y2="506.4" stroke="#000" stroke-width="1.6"/>
<text x="199.2" y="509.7" font-size="8.8" font-weight="bold" text-anchor="end" fill="#111">1.5</text>
<line x1="199.2" y1="477" x2="203.8" y2="477" stroke="#000" stroke-width="1.6"/>
<text x="199.2" y="480.3" font-size="8.8" font-weight="bold" text-anchor="end" fill="#111">2.0</text>
<line x1="213.5" y1="594.6" x2="213.5" y2="598.2" stroke="#000" stroke-width="1.6"/>
<text x="216.1" y="604.8" font-size="9.4" font-weight="bold" text-anchor="end" fill="#111" transform="rotate(-45 216.1 604.8)">CCL5</text>
<line x1="233.65" y1="594.6" x2="233.65" y2="598.2" stroke="#000" stroke-width="1.6"/>
<text x="236.25" y="604.8" font-size="9.4" font-weight="bold" text-anchor="end" fill="#111" transform="rotate(-45 236.25 604.8)">MIR</text>
<line x1="254.5" y1="594.6" x2="254.5" y2="598.2" stroke="#000" stroke-width="1.6"/>
<text x="257.1" y="604.8" font-size="9.4" font-weight="bold" text-anchor="end" fill="#111" transform="rotate(-45 257.1 604.8)">CCL5 + MIR</text>
<svg x="190" y="440" width="75.5" height="30" overflow="hidden"><text x="3.8" y="20.8" font-size="9.6" font-weight="bold" fill="#111" font-family="Liberation Sans, sans-serif">4E-BP1 (Thr37/46)</text></svg>
<text x="7" y="534.8" font-size="9.4" font-weight="bold" text-anchor="middle" fill="#111" transform="rotate(-90 7 534.8)">Fold Change</text>
<text x="276.8" y="445.3" font-size="10.5" font-weight="bold" text-anchor="start" fill="#000">F</text>
<line x1="302.9" y1="454.5" x2="302.9" y2="597.4" stroke="#000" stroke-width="1.9"/>
<line x1="301.8" y1="596.6" x2="501.8" y2="596.6" stroke="#000" stroke-width="1.9"/>
<line x1="299.2" y1="596.6" x2="302.6" y2="596.6" stroke="#000" stroke-width="1.4"/>
<text x="298.6" y="599.8" font-size="9" font-weight="bold" text-anchor="end" fill="#111">0</text>
<line x1="299.2" y1="549.4" x2="302.6" y2="549.4" stroke="#000" stroke-width="1.4"/>
<text x="298.6" y="552.6" font-size="9" font-weight="bold" text-anchor="end" fill="#111">10</text>
<line x1="299.2" y1="502.2" x2="302.6" y2="502.2" stroke="#000" stroke-width="1.4"/>
<text x="298.6" y="505.4" font-size="9" font-weight="bold" text-anchor="end" fill="#111">20</text>
<line x1="299.2" y1="455" x2="302.6" y2="455" stroke="#000" stroke-width="1.4"/>
<text x="298.6" y="458.2" font-size="9" font-weight="bold" text-anchor="end" fill="#111">30</text>
<line x1="302.6" y1="596.6" x2="302.6" y2="600" stroke="#000" stroke-width="1.4"/>
<text x="302.6" y="609.5" font-size="8.7" font-weight="bold" text-anchor="middle" fill="#111">300</text>
<line x1="342.42" y1="596.6" x2="342.42" y2="600" stroke="#000" stroke-width="1.4"/>
<text x="342.42" y="609.5" font-size="8.7" font-weight="bold" text-anchor="middle" fill="#111">400</text>
<line x1="382.24" y1="596.6" x2="382.24" y2="600" stroke="#000" stroke-width="1.4"/>
<text x="382.24" y="609.5" font-size="8.7" font-weight="bold" text-anchor="middle" fill="#111">500</text>
<line x1="422.06" y1="596.6" x2="422.06" y2="600" stroke="#000" stroke-width="1.4"/>
<text x="422.06" y="609.5" font-size="8.7" font-weight="bold" text-anchor="middle" fill="#111">600</text>
<line x1="461.88" y1="596.6" x2="461.88" y2="600" stroke="#000" stroke-width="1.4"/>
<text x="461.88" y="609.5" font-size="8.7" font-weight="bold" text-anchor="middle" fill="#111">700</text>
<line x1="501.7" y1="596.6" x2="501.7" y2="600" stroke="#000" stroke-width="1.4"/>
<text x="501.7" y="609.5" font-size="8.7" font-weight="bold" text-anchor="middle" fill="#111">800</text>
<text x="277.9" y="525.8" font-size="9.3" font-weight="bold" text-anchor="middle" fill="#111" transform="rotate(-90 277.9 525.8)">WBC (K/μL)</text>
<text x="403.3" y="626.3" font-size="9.2" font-weight="bold" text-anchor="middle" fill="#111">Platelet Count (K/μL)</text>
<line x1="322" y1="534.8" x2="457.5" y2="543.4" stroke="#4a46c0" stroke-width="1.4"/>
<line x1="379.2" y1="554.7" x2="415.7" y2="503.5" stroke="#a8343a" stroke-width="1.4"/>
<line x1="346.2" y1="547.3" x2="401.9" y2="563.5" stroke="#000" stroke-width="1.6"/>
<line x1="361.9" y1="558.8" x2="434.5" y2="549" stroke="#000" stroke-width="1.6"/>
<rect x="349.8" y="507" width="4.4" height="4.4" fill="#4a46c0"/>
<rect x="356.7" y="527.3" width="4.4" height="4.4" fill="#4a46c0"/>
<rect x="362.3" y="534.7" width="4.4" height="4.4" fill="#4a46c0"/>
<rect x="379.3" y="529" width="4.4" height="4.4" fill="#4a46c0"/>
<rect x="320.5" y="540.5" width="4.4" height="4.4" fill="#4a46c0"/>
<rect x="341.7" y="552.7" width="4.4" height="4.4" fill="#4a46c0"/>
<rect x="399.7" y="559.6" width="4.4" height="4.4" fill="#4a46c0"/>
<rect x="454.3" y="539.2" width="4.4" height="4.4" fill="#4a46c0"/>
<circle cx="417.5" cy="478.6" r="2.3" fill="#b0383a"/>
<circle cx="415.7" cy="503.5" r="2.3" fill="#b0383a"/>
<circle cx="411.1" cy="531.2" r="2.3" fill="#b0383a"/>
<circle cx="398.9" cy="534.6" r="2.3" fill="#b0383a"/>
<circle cx="379.2" cy="534.6" r="2.3" fill="#b0383a"/>
<circle cx="382.7" cy="539.7" r="2.3" fill="#b0383a"/>
<circle cx="394.9" cy="546.8" r="2.3" fill="#b0383a"/>
<circle cx="379.2" cy="568.8" r="2.3" fill="#b0383a"/>
<polygon points="346.2,540.6 343.6,545.28 348.8,545.28" fill="#000"/>
<polygon points="373.5,552.3 370.9,556.98 376.1,556.98" fill="#000"/>
<polygon points="386.2,552.8 383.6,557.48 388.8,557.48" fill="#000"/>
<polygon points="393.1,563.2 390.5,567.88 395.7,567.88" fill="#000"/>
<polygon points="394.9,564.8 392.3,569.48 397.5,569.48" fill="#000"/>
<polygon points="403.5,559.2 400.9,563.88 406.1,563.88" fill="#000"/>
<polygon points="361.9,556.1 359.3,551.42 364.5,551.42" fill="#000"/>
<polygon points="363.1,562.1 360.5,557.42 365.7,557.42" fill="#000"/>
<polygon points="397.2,555.7 394.6,551.02 399.8,551.02" fill="#000"/>
<polygon points="401.9,570 399.3,565.32 404.5,565.32" fill="#000"/>
<polygon points="409.2,557.5 406.6,552.82 411.8,552.82" fill="#000"/>
<polygon points="434,553.3 431.4,548.62 436.6,548.62" fill="#000"/>
<line x1="453.7" y1="458.7" x2="468" y2="458.7" stroke="#b0383a" stroke-width="1.9"/>
<circle cx="460.85" cy="458.7" r="2.1" fill="#b0383a"/>
<text x="474.2" y="462.1" font-size="9.3" text-anchor="start" fill="#111" stroke="#111" stroke-width="0.12">DSS</text>
<line x1="453.7" y1="471.7" x2="468" y2="471.7" stroke="#4a46c0" stroke-width="1.9"/>
<rect x="458.75" y="469.6" width="4.2" height="4.2" fill="#4a46c0"/>
<text x="474.2" y="475.1" font-size="9.3" text-anchor="start" fill="#111" stroke="#111" stroke-width="0.12">DSS + MIR</text>
<line x1="453.7" y1="486.7" x2="468" y2="486.7" stroke="#000" stroke-width="1.9"/>
<polygon points="460.85,484.7 458.85,488.3 462.85,488.3" fill="#000"/>
<text x="474.2" y="490.1" font-size="9.3" text-anchor="start" fill="#111" stroke="#111" stroke-width="0.12">H<tspan font-size="6.5" dy="2.5">2</tspan><tspan dy="-2.5">0</tspan></text>
<line x1="453.7" y1="500.2" x2="468" y2="500.2" stroke="#000" stroke-width="1.9"/>
<polygon points="460.85,502.2 458.85,498.6 462.85,498.6" fill="#000"/>
<text x="474.2" y="503.6" font-size="9.3" text-anchor="start" fill="#111" stroke="#111" stroke-width="0.12">H<tspan font-size="6.5" dy="2.5">2</tspan><tspan dy="-2.5">0 + MIR</tspan></text>
<text x="1.3" y="666.7" font-size="10" font-weight="bold" text-anchor="start" fill="#000">G</text>
<ellipse cx="98.6" cy="671.2" rx="24.6" ry="15.8" fill="#b9aa98" opacity="0.45"/>
<ellipse cx="98" cy="669.6" rx="24" ry="15.2" fill="url(#gPlate)" stroke="#c5a47e" stroke-width="1.1"/>
<circle cx="91.8" cy="658.5" r="2.1" fill="url(#mGreen)"/>
<circle cx="100.4" cy="664.4" r="2.1" fill="url(#mRed)"/>
<circle cx="107.1" cy="662.5" r="2.1" fill="url(#mGreen)"/>
<circle cx="116" cy="666" r="2.1" fill="url(#mRed)"/>
<circle cx="84.8" cy="666" r="2.1" fill="url(#mPurple)"/>
<circle cx="94.5" cy="671.4" r="2.1" fill="url(#mGreen)"/>
<circle cx="106.3" cy="671.1" r="2.1" fill="url(#mPurple)"/>
<circle cx="84.8" cy="672.7" r="2.1" fill="url(#mRed)"/>
<circle cx="89.6" cy="677.8" r="2.1" fill="url(#mTeal)"/>
<circle cx="102.5" cy="680" r="2.1" fill="url(#mGreen)"/>
<circle cx="111.7" cy="677.3" r="2.1" fill="url(#mRed)"/>
<ellipse cx="171.6" cy="674.9" rx="24.2" ry="15.4" fill="#b9aa98" opacity="0.45"/>
<ellipse cx="171" cy="673.3" rx="23.6" ry="14.8" fill="url(#gPlate)" stroke="#c5a47e" stroke-width="1.1"/>
<circle cx="165.5" cy="662.5" r="2.1" fill="url(#mRed)"/>
<circle cx="158.3" cy="669.8" r="2.1" fill="url(#mGreen)"/>
<circle cx="173.1" cy="667.9" r="2.1" fill="url(#mGreen)"/>
<circle cx="179.8" cy="666" r="2.1" fill="url(#mTeal)"/>
<circle cx="189.2" cy="669.8" r="2.1" fill="url(#mGreen)"/>
<circle cx="167.7" cy="674.1" r="2.1" fill="url(#mGreen)"/>
<circle cx="179.8" cy="674.6" r="2.1" fill="url(#mRed)"/>
<circle cx="158.3" cy="676.8" r="2.1" fill="url(#mPurple)"/>
<circle cx="162.9" cy="682.2" r="2.1" fill="url(#mRed)"/>
<circle cx="170.4" cy="681.3" r="2.1" fill="url(#mTeal)"/>
<circle cx="177.1" cy="684" r="2.1" fill="url(#mRed)"/>
<circle cx="184.4" cy="681.3" r="2.1" fill="url(#mGreen)"/>
<ellipse cx="135.1" cy="696.5" rx="24.5" ry="15.9" fill="#b9aa98" opacity="0.45"/>
<ellipse cx="134.5" cy="694.9" rx="23.9" ry="15.3" fill="url(#gPlate)" stroke="#c5a47e" stroke-width="1.1"/>
<circle cx="127.9" cy="684.8" r="2.1" fill="url(#mRed)"/>
<circle cx="136.7" cy="689.4" r="2.1" fill="url(#mPurple)"/>
<circle cx="143.5" cy="685.4" r="2.1" fill="url(#mGreen)"/>
<circle cx="152.9" cy="691.3" r="2.1" fill="url(#mRed)"/>
<circle cx="121.4" cy="691.3" r="2.1" fill="url(#mGreen)"/>
<circle cx="130.5" cy="696.2" r="2.1" fill="url(#mGreen)"/>
<circle cx="136.7" cy="698.8" r="2.1" fill="url(#mTeal)"/>
<circle cx="143.5" cy="694" r="2.1" fill="url(#mGreen)"/>
<circle cx="121.4" cy="698" r="2.1" fill="url(#mGreen)"/>
<circle cx="126" cy="703.4" r="2.1" fill="url(#mGreen)"/>
<circle cx="138.6" cy="705.6" r="2.1" fill="url(#mGreen)"/>
<circle cx="147.5" cy="702.1" r="2.1" fill="url(#mGreen)"/>
<text x="237" y="684.8" font-size="9.6" text-anchor="middle" fill="#1a1a1a" stroke="#1a1a1a" stroke-width="0.08">Inflammatory</text>
<text x="237" y="695.7" font-size="9.6" text-anchor="middle" fill="#1a1a1a" stroke="#1a1a1a" stroke-width="0.08">Stimulus</text>
<text x="101.2" y="744.4" font-size="9.6" text-anchor="middle" fill="#1a1a1a" stroke="#1a1a1a" stroke-width="0.08">Increased</text>
<text x="101.2" y="755.2" font-size="9.6" text-anchor="middle" fill="#1a1a1a" stroke="#1a1a1a" stroke-width="0.08">(Pro)platelet</text>
<text x="101.2" y="766" font-size="9.6" text-anchor="middle" fill="#1a1a1a" stroke="#1a1a1a" stroke-width="0.08">Production</text>
<text x="252.6" y="777.9" font-size="9.6" text-anchor="middle" fill="#1a1a1a" stroke="#1a1a1a" stroke-width="0.08">CCL5</text>
<text x="254" y="788.1" font-size="9.6" text-anchor="middle" fill="#1a1a1a" stroke="#1a1a1a" stroke-width="0.08">Release</text>
<polygon points="195.07,704 235.09,715.19 234.58,717.02 241.6,714.2 237.06,708.15 236.55,709.98 196.53,698.8" fill="#0a0a0a"/>
<polygon points="152.04,765.43 141.83,735.6 144.43,734.71 136.4,729 133.55,738.43 136.15,737.54 146.36,767.37" fill="#0a0a0a"/>
<polygon points="290.39,780.33 269.78,794.39 268.37,792.33 265.4,800.4 274,800.59 272.59,798.52 293.21,784.47" fill="#0a0a0a"/>
<circle cx="283" cy="687.4" r="2.8" fill="url(#gGreen)"/>
<circle cx="291.6" cy="688" r="2.8" fill="url(#gGreen)"/>
<circle cx="286.7" cy="698.4" r="2.8" fill="url(#gGreen)"/>
<circle cx="295.4" cy="695.2" r="2.8" fill="url(#gGreen)"/>
<circle cx="306.9" cy="696" r="2.8" fill="url(#gGreen)"/>
<circle cx="315.6" cy="690.3" r="2.8" fill="url(#gGreen)"/>
<circle cx="352.2" cy="681.6" r="2.8" fill="url(#gGreen)"/>
<circle cx="386.8" cy="688" r="2.8" fill="url(#gGreen)"/>
<circle cx="387.7" cy="698.4" r="2.8" fill="url(#gGreen)"/>
<circle cx="394" cy="705.3" r="2.8" fill="url(#gGreen)"/>
<circle cx="297.5" cy="761.5" r="2.8" fill="url(#gGreen)"/>
<circle cx="312.3" cy="761.5" r="2.8" fill="url(#gGreen)"/>
<circle cx="327" cy="758.5" r="2.8" fill="url(#gGreen)"/>
<circle cx="301" cy="772.3" r="2.8" fill="url(#gGreen)"/>
<circle cx="314.8" cy="774.8" r="2.8" fill="url(#gGreen)"/>
<circle cx="323.7" cy="770.2" r="2.8" fill="url(#gGreen)"/>
<circle cx="307" cy="781" r="2.8" fill="url(#gGreen)"/>
<circle cx="400" cy="730.2" r="2.8" fill="url(#gGreen)"/>
<circle cx="406.2" cy="740" r="2.8" fill="url(#gGreen)"/>
<circle cx="411.7" cy="754.8" r="2.8" fill="url(#gGreen)"/>
<circle cx="390.8" cy="766.2" r="2.8" fill="url(#gGreen)"/>
<circle cx="404.6" cy="771.4" r="2.8" fill="url(#gGreen)"/>
<circle cx="357" cy="769.2" r="2.8" fill="url(#gGreen)"/>
<polygon points="316.66,684.43 339.6,690.53 343.85,683.93 353.17,689.27 365.09,679.93 363.01,690.57 379.03,688.6 369.3,695.1 387.53,696.1 370.87,699.67 384.64,704.93 368.01,704.48 377.33,713.27 361.11,706.44 360,711.93 352.21,708.31 345.55,719.93 343.65,708.21 329.41,711.6 335.56,704.43 316.66,706.43 331.66,700.09 315.47,696.1 331.66,693.93" fill="#9a8a78" opacity="0.35" transform="translate(1.2 1.6)"/>
<polygon points="316.66,684.43 339.6,690.53 343.85,683.93 353.17,689.27 365.09,679.93 363.01,690.57 379.03,688.6 369.3,695.1 387.53,696.1 370.87,699.67 384.64,704.93 368.01,704.48 377.33,713.27 361.11,706.44 360,711.93 352.21,708.31 345.55,719.93 343.65,708.21 329.41,711.6 335.56,704.43 316.66,706.43 331.66,700.09 315.47,696.1 331.66,693.93" fill="url(#gStar)" stroke="#c9a06e" stroke-width="0.9" stroke-linejoin="round"/>
<circle cx="339.2" cy="696.6" r="3.1" fill="url(#sPurple)"/>
<circle cx="350.2" cy="699.8" r="3.1" fill="url(#sRed)"/>
<circle cx="356.5" cy="694" r="3.1" fill="url(#sPurple)"/>
<circle cx="362.9" cy="700.4" r="3.1" fill="url(#sTeal)"/>
<polygon points="267.14,724.69 288.32,730.85 292.24,724.19 300.84,729.58 311.85,720.15 309.93,730.89 324.71,728.9 315.73,735.47 332.55,736.48 317.18,740.08 329.89,745.4 314.54,744.94 323.14,753.81 308.17,746.92 307.14,752.46 299.96,748.8 293.81,760.54 292.05,748.71 278.91,752.13 284.59,744.89 267.14,746.91 280.98,740.51 266.05,736.48 280.98,734.29" fill="#9a8a78" opacity="0.35" transform="translate(1.2 1.6)"/>
<polygon points="267.14,724.69 288.32,730.85 292.24,724.19 300.84,729.58 311.85,720.15 309.93,730.89 324.71,728.9 315.73,735.47 332.55,736.48 317.18,740.08 329.89,745.4 314.54,744.94 323.14,753.81 308.17,746.92 307.14,752.46 299.96,748.8 293.81,760.54 292.05,748.71 278.91,752.13 284.59,744.89 267.14,746.91 280.98,740.51 266.05,736.48 280.98,734.29" fill="url(#gStar)" stroke="#c9a06e" stroke-width="0.9" stroke-linejoin="round"/>
<circle cx="289.2" cy="735.4" r="3.1" fill="url(#sTeal)"/>
<circle cx="299.1" cy="738.5" r="3.1" fill="url(#sPurple)"/>
<circle cx="305.2" cy="732.3" r="3.1" fill="url(#sRed)"/>
<circle cx="311.4" cy="739.4" r="3.1" fill="url(#sPurple)"/>
<polygon points="339.44,738.5 360.62,743.88 364.54,738.06 373.14,742.76 384.15,734.53 382.23,743.92 397.01,742.18 388.03,747.91 404.85,748.79 389.48,751.95 402.19,756.59 386.84,756.19 395.44,763.94 380.47,757.92 379.44,762.76 372.26,759.56 366.11,769.82 364.35,759.48 351.21,762.47 356.89,756.15 339.44,757.91 353.28,752.32 338.35,748.79 353.28,746.88" fill="#9a8a78" opacity="0.35" transform="translate(1.2 1.6)"/>
<polygon points="339.44,738.5 360.62,743.88 364.54,738.06 373.14,742.76 384.15,734.53 382.23,743.92 397.01,742.18 388.03,747.91 404.85,748.79 389.48,751.95 402.19,756.59 386.84,756.19 395.44,763.94 380.47,757.92 379.44,762.76 372.26,759.56 366.11,769.82 364.35,759.48 351.21,762.47 356.89,756.15 339.44,757.91 353.28,752.32 338.35,748.79 353.28,746.88" fill="url(#gStar)" stroke="#c9a06e" stroke-width="0.9" stroke-linejoin="round"/>
<circle cx="360" cy="748.3" r="3.1" fill="url(#sRed)"/>
<circle cx="369.8" cy="749.8" r="3.1" fill="url(#sTeal)"/>
<circle cx="376.3" cy="745.5" r="3.1" fill="url(#sPurple)"/>
<circle cx="382.2" cy="754.8" r="3.1" fill="url(#sRed)"/>
<ellipse cx="190.3" cy="852.0" rx="52.8" ry="39.8" fill="#8c98a8" opacity="0.35"/>
<ellipse cx="189.5" cy="850.4" rx="52.3" ry="39.6" fill="url(#gMK)" stroke="#4d76b6" stroke-width="1.3"/>
<path d="M165.96,830 C166.51,828.08 169.65,826.67 171.73,826.15 C173.81,825.64 176.63,825.96 178.46,826.92 C180.29,827.88 181.15,830.64 182.69,831.92 C184.23,833.21 185.67,834.62 187.69,834.62 C189.71,834.62 192.24,832.56 194.81,831.92 C197.37,831.28 201.15,830.26 203.08,830.77 C205,831.28 206.03,833.21 206.35,835 C206.67,836.79 205.16,839.39 205,841.54 C204.84,843.69 204.04,846.6 205.38,847.88 C206.73,849.17 210.9,848.37 213.08,849.23 C215.26,850.1 217.63,851.22 218.46,853.08 C219.29,854.94 218.97,858.53 218.08,860.38 C217.18,862.24 215.51,863.4 213.08,864.23 C210.64,865.06 205.87,864.74 203.46,865.38 C201.06,866.03 199.94,866.92 198.65,868.08 C197.37,869.23 197.15,871.09 195.77,872.31 C194.39,873.53 192.37,874.81 190.38,875.38 C188.4,875.96 185.51,876.41 183.85,875.77 C182.18,875.13 180.77,873.14 180.38,871.54 C180,869.94 180.51,867.63 181.54,866.15 C182.56,864.68 185.45,864.23 186.54,862.69 C187.63,861.15 188.08,858.91 188.08,856.92 C188.08,854.94 187.66,852.69 186.54,850.77 C185.42,848.85 183.33,846.92 181.35,845.38 C179.36,843.85 176.76,842.82 174.62,841.54 C172.47,840.26 169.9,839.62 168.46,837.69 C167.02,835.77 165.42,831.92 165.96,830Z" fill="#3b5986" stroke="#34507a" stroke-width="0.6"/>
<polyline points="143.63,829.49 148.44,830.38 146.18,826.04 150.99,826.93 148.73,822.59 153.54,823.48 151.28,819.14 156.09,820.03 153.83,815.69" fill="none" stroke="#5f8f2a" stroke-width="1.7" stroke-linejoin="miter"/>
<polyline points="237.71,833.82 235.44,838.01 240.01,836.67 237.74,840.86 242.31,839.52 240.04,843.71 244.61,842.37 242.34,846.56 246.91,845.22" fill="none" stroke="#5f8f2a" stroke-width="1.7" stroke-linejoin="miter"/>
<polyline points="187.02,889.53 190.73,892.59 190.52,887.78 194.23,890.84 194.02,886.03 197.73,889.09 197.52,884.28 201.23,887.34 201.02,882.53" fill="none" stroke="#5f8f2a" stroke-width="1.7" stroke-linejoin="miter"/>
<line x1="188.5" y1="799.5" x2="179.1" y2="808.6" stroke="#333" stroke-width="0.9"/>
<line x1="192.5" y1="800.5" x2="203.6" y2="809.6" stroke="#333" stroke-width="0.9"/>
<path d="M148,786 L236,805 C240,801 248,801 251,805 C257,806 259,812 255.5,814.5 C257.5,819 250,823.5 245,819.5 C242,816 238,813.5 234,812.5 L147,794 C144,797 137,799.5 133,797.5 C128,797.5 126.5,791.5 130,789 C128,785 131,780 136,781 C139,777.5 145.5,779 146,782 Z" fill="url(#gBone)" stroke="#b3a985" stroke-width="0.8"/>
<path d="M166.5,791.8 L219.5,803.4 L218.9,806.4 L165.9,794.8 Z" fill="#c8a89c" stroke="#7a2626" stroke-width="0.9"/>
<rect x="327.3" y="808.7" width="70" height="87.1" rx="7" ry="7" fill="#e4e4e4" stroke="#4a4a4a" stroke-width="1.0"/>
<circle cx="341.2" cy="819.8" r="5.0" fill="url(#gOrange)"/>
<polygon points="348.5,838.5 345.56,839.59 347.56,842 344.47,841.47 345,844.56 342.59,842.56 341.5,845.5 340.41,842.56 338,844.56 338.53,841.47 335.44,842 337.44,839.59 334.5,838.5 337.44,837.41 335.44,835 338.53,835.53 338,832.44 340.41,834.44 341.5,831.5 342.59,834.44 345,832.44 344.47,835.53 347.56,835 345.56,837.41" fill="#e6a440"/>
<circle cx="341.5" cy="838.5" r="4.6" fill="url(#gOrange)"/>
<circle cx="342.1" cy="856.3" r="2.9" fill="url(#gGreen)"/>
<polyline points="337.52,872.98 341.4,873.69 339.35,870.31 343.23,871.02 341.18,867.65 345.07,868.35 343.02,864.98" fill="none" stroke="#5f8a2a" stroke-width="1.4" stroke-linejoin="miter"/>
<ellipse cx="340.8" cy="884.6" rx="6.2" ry="4.6" fill="url(#gBlue)" stroke="#3a5a9a" stroke-width="0.5"/>
<ellipse cx="340.8" cy="884.6" rx="1.3" ry="2.4" fill="#223a6a"/>
<text x="351.7" y="821.6" font-size="7.3" text-anchor="start" fill="#222">Platelet</text>
<text x="351.7" y="836.6" font-size="7.3" text-anchor="start" fill="#222">Activated</text>
<text x="351.7" y="843.9" font-size="7.3" text-anchor="start" fill="#222">Platelet</text>
<text x="351.7" y="858.8" font-size="7.3" text-anchor="start" fill="#222">RANTES</text>
<text x="351.7" y="872.8" font-size="7.3" text-anchor="start" fill="#222">CCR5</text>
<text x="351.7" y="887" font-size="7.3" text-anchor="start" fill="#222">Mature MK</text>
</svg>
</body></html>
